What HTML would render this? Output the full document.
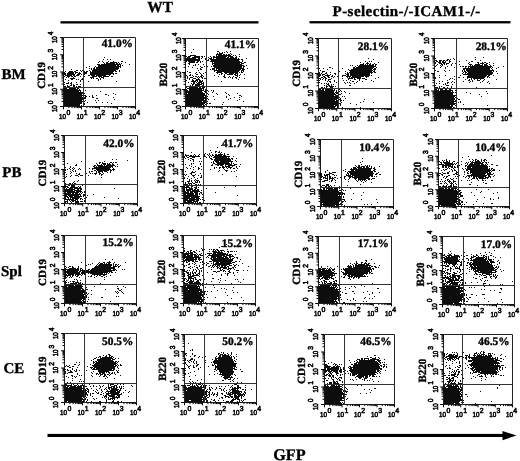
<!DOCTYPE html>
<html><head><meta charset="utf-8"><title>GFP flow cytometry</title>
<style>
html,body{margin:0;padding:0;background:#fff}
svg{display:block}
text{text-rendering:geometricPrecision;font-family:"Liberation Serif",serif;font-weight:bold;fill:#000;stroke:#000;stroke-width:.35}
.n{font-family:"Liberation Sans",sans-serif;font-weight:normal;font-size:7.3px;stroke-width:.55}
.s{font-size:6.2px}
.y{font-size:11px}
.p{font-size:11.4px}
.r{font-size:15px}
.h{font-size:15px}
.d{stroke:#111;stroke-width:1;fill:none}
.a{stroke:#222;stroke-width:1;fill:none}
.g{stroke:#333;stroke-width:1;fill:none}
.t{stroke:#000;stroke-width:1;fill:none}
</style></head><body>
<svg width="520" height="461" viewBox="0 0 520 461">
<defs><filter id="b" x="-2%" y="-2%" width="104%" height="104%"><feGaussianBlur stdDeviation="0.32"/></filter></defs>
<rect width="520" height="461" fill="#fff"/>
<text class="h" x="160.2" y="12.3" text-anchor="middle" style="font-size:15.4px">WT</text>
<text class="h" x="332.6" y="15.9" style="letter-spacing:.43px">P-selectin-/-ICAM1-/-</text>
<rect x="60.5" y="21.2" width="198" height="2.3" fill="#000"/>
<rect x="309.5" y="21.1" width="201" height="2.3" fill="#000"/>
<text class="r" x="1.4" y="79.3">BM</text>
<text class="r" x="2.3" y="176.5">PB</text>
<text class="r" x="1" y="275.6">Spl</text>
<text class="r" x="3.5" y="372.6">CE</text>
<rect x="47.5" y="433.9" width="457" height="3.1" fill="#000"/>
<path d="M502.5 431L516.5 435.5L502.5 440.2Z" fill="#000"/>
<text class="h" x="289.4" y="460" text-anchor="middle" style="font-size:16.2px">GFP</text>
<path class="d" filter="url(#b)" d="M104 57.5h1M103 59.5h1M107 59.5h1M110 59.5h1M99 61.5h1M102 61.5h1M108 61.5h1M113 61.5h1M121 61.5h2M98 62.5h1M103 62.5h1M106 62.5h2M110 62.5h7M118 62.5h1M125 62.5h1M104 63.5h1M106 63.5h9M116 63.5h2M119 63.5h1M121 63.5h1M97 64.5h3M101 64.5h20M129 64.5h1M98 65.5h18M117 65.5h2M120 65.5h1M122 65.5h1M89 66.5h1M95 66.5h1M98 66.5h23M86 67.5h1M94 67.5h1M96 67.5h23M120 67.5h1M89 68.5h1M91 68.5h1M93 68.5h2M96 68.5h23M71 69.5h1M91 69.5h1M93 69.5h25M76 70.5h2M80 70.5h1M82 70.5h1M89 70.5h1M92 70.5h24M119 70.5h1M65 71.5h1M69 71.5h4M74 71.5h2M81 71.5h1M83 71.5h2M86 71.5h2M90 71.5h1M92 71.5h22M115 71.5h2M119 71.5h1M64 72.5h1M68 72.5h6M75 72.5h3M79 72.5h1M83 72.5h4M90 72.5h23M64 73.5h2M67 73.5h7M75 73.5h1M78 73.5h3M84 73.5h3M90 73.5h24M115 73.5h2M64 74.5h2M67 74.5h8M77 74.5h3M81 74.5h1M84 74.5h1M90 74.5h21M113 74.5h1M65 75.5h7M73 75.5h2M76 75.5h3M88 75.5h2M91 75.5h4M96 75.5h10M109 75.5h1M64 76.5h1M67 76.5h3M71 76.5h2M74 76.5h2M80 76.5h1M84 76.5h1M92 76.5h5M98 76.5h4M103 76.5h6M111 76.5h2M66 77.5h1M68 77.5h1M73 77.5h1M90 77.5h4M99 77.5h1M101 77.5h3M70 78.5h5M82 78.5h1M91 78.5h1M93 78.5h1M96 78.5h2M100 78.5h1M103 78.5h1M65 79.5h1M71 79.5h2M76 79.5h1M78 79.5h1M81 79.5h2M98 79.5h1M100 79.5h1M68 80.5h1M80 80.5h1M98 80.5h1M80 81.5h1M88 81.5h1M116 81.5h1M64 82.5h1M68 82.5h1M71 82.5h1M76 82.5h1M66 83.5h3M70 83.5h2M64 84.5h1M71 84.5h1M73 84.5h1M76 84.5h2M80 84.5h1M67 85.5h1M70 85.5h2M73 85.5h2M64 86.5h2M67 86.5h3M73 86.5h2M76 86.5h1M78 86.5h3M64 87.5h1M66 87.5h2M70 87.5h6M77 87.5h3M81 87.5h1M64 88.5h3M69 88.5h7M77 88.5h2M64 89.5h14M79 89.5h1M83 89.5h1M64 90.5h17M83 90.5h1M85 90.5h1M64 91.5h15M80 91.5h1M100 91.5h1M64 92.5h19M64 93.5h19M84 93.5h1M113 93.5h1M64 94.5h18M83 94.5h1M105 94.5h2M115 94.5h1M64 95.5h22M92 95.5h1M96 95.5h1M108 95.5h1M64 96.5h18M85 96.5h2M89 96.5h1M92 96.5h1M64 97.5h22M92 97.5h2M113 97.5h1M64 98.5h22M96 98.5h2M64 99.5h20M114 99.5h1M64 100.5h18M85 100.5h1M95 100.5h1M98 100.5h1M64 101.5h21M64 102.5h18M87 102.5h1M96 102.5h1M102 102.5h1M107 102.5h1M64 103.5h18M84 103.5h1M111 103.5h1M64 104.5h16M83 104.5h2M64 105.5h16M81 105.5h1M64 106.5h19M84 106.5h1"/>
<path class="a" d="M63.5 37.5H135.5V106.5H63.5Z"/>
<path class="g" d="M83.5 37.5V106.5M63.5 87.5H135.5"/>
<path class="t" d="M63.5 106.5v2.8M63.5 106.5h-3.4M68.92 106.5v1.6M63.5 101.31h-2M72.09 106.5v1.6M63.5 98.27h-2M74.34 106.5v1.6M63.5 96.11h-2M76.08 106.5v1.6M63.5 94.44h-2M77.51 106.5v1.6M63.5 93.08h-2M78.71 106.5v1.6M63.5 91.92h-2M79.76 106.5v1.6M63.5 90.92h-2M80.68 106.5v1.6M63.5 90.04h-2M81.5 106.5v2.8M63.5 89.25h-3.4M86.92 106.5v1.6M63.5 84.06h-2M90.09 106.5v1.6M63.5 81.02h-2M92.34 106.5v1.6M63.5 78.86h-2M94.08 106.5v1.6M63.5 77.19h-2M95.51 106.5v1.6M63.5 75.83h-2M96.71 106.5v1.6M63.5 74.67h-2M97.76 106.5v1.6M63.5 73.67h-2M98.68 106.5v1.6M63.5 72.79h-2M99.5 106.5v2.8M63.5 72h-3.4M104.92 106.5v1.6M63.5 66.81h-2M108.09 106.5v1.6M63.5 63.77h-2M110.34 106.5v1.6M63.5 61.61h-2M112.08 106.5v1.6M63.5 59.94h-2M113.51 106.5v1.6M63.5 58.58h-2M114.71 106.5v1.6M63.5 57.42h-2M115.76 106.5v1.6M63.5 56.42h-2M116.68 106.5v1.6M63.5 55.54h-2M117.5 106.5v2.8M63.5 54.75h-3.4M122.92 106.5v1.6M63.5 49.56h-2M126.09 106.5v1.6M63.5 46.52h-2M128.34 106.5v1.6M63.5 44.36h-2M130.08 106.5v1.6M63.5 42.69h-2M131.51 106.5v1.6M63.5 41.33h-2M132.71 106.5v1.6M63.5 40.17h-2M133.76 106.5v1.6M63.5 39.17h-2M134.68 106.5v1.6M63.5 38.29h-2M135.5 106.5v2.8M63.5 37.5h-3.4"/>
<text class="n" transform="translate(59.1 118.6) scale(.86 1)">10</text>
<text class="n" transform="translate(66.4 114.9) scale(.95 1)">0</text>
<text class="n" transform="translate(57.2 112.1) rotate(-90) scale(.85 1)">10</text>
<text class="n" transform="translate(53 104.2) rotate(-90) scale(.93 1)">0</text>
<text class="n" transform="translate(76.56 118.6) scale(.86 1)">10</text>
<text class="n" transform="translate(83.86 114.9) scale(.95 1)">1</text>
<text class="n" transform="translate(57.2 94.85) rotate(-90) scale(.85 1)">10</text>
<text class="n" transform="translate(53 86.95) rotate(-90) scale(.93 1)">1</text>
<text class="n" transform="translate(94.02 118.6) scale(.86 1)">10</text>
<text class="n" transform="translate(101.32 114.9) scale(.95 1)">2</text>
<text class="n" transform="translate(57.2 77.6) rotate(-90) scale(.85 1)">10</text>
<text class="n" transform="translate(53 69.7) rotate(-90) scale(.93 1)">2</text>
<text class="n" transform="translate(111.48 118.6) scale(.86 1)">10</text>
<text class="n" transform="translate(118.78 114.9) scale(.95 1)">3</text>
<text class="n" transform="translate(57.2 60.35) rotate(-90) scale(.85 1)">10</text>
<text class="n" transform="translate(53 52.45) rotate(-90) scale(.93 1)">3</text>
<text class="n" transform="translate(128.94 118.6) scale(.86 1)">10</text>
<text class="n" transform="translate(136.24 114.9) scale(.95 1)">4</text>
<text class="n" transform="translate(57.2 43.1) rotate(-90) scale(.85 1)">10</text>
<text class="n" transform="translate(53 35.2) rotate(-90) scale(.93 1)">4</text>
<text class="y" transform="translate(44.9 75.4) rotate(-90)" text-anchor="middle">CD19</text>
<text class="p" x="133" y="46.7" text-anchor="end">41.0%</text>
<path class="d" filter="url(#b)" d="M193 49.5h1M217 51.5h2M226 51.5h1M230 51.5h1M191 52.5h1M219 52.5h1M222 52.5h1M224 52.5h1M227 52.5h1M217 53.5h1M219 53.5h4M230 53.5h1M216 54.5h6M223 54.5h2M226 54.5h1M228 54.5h2M231 54.5h1M239 54.5h1M190 55.5h6M216 55.5h1M218 55.5h13M233 55.5h1M235 55.5h1M186 56.5h1M188 56.5h3M194 56.5h6M201 56.5h2M204 56.5h1M210 56.5h1M213 56.5h2M216 56.5h11M228 56.5h5M236 56.5h1M239 56.5h1M187 57.5h3M192 57.5h8M202 57.5h1M206 57.5h1M208 57.5h1M211 57.5h1M213 57.5h13M227 57.5h2M230 57.5h4M235 57.5h2M186 58.5h10M198 58.5h2M201 58.5h1M205 58.5h2M209 58.5h3M213 58.5h1M216 58.5h21M238 58.5h1M246 58.5h1M186 59.5h14M205 59.5h1M208 59.5h1M210 59.5h30M241 59.5h2M186 60.5h14M207 60.5h2M211 60.5h28M242 60.5h1M186 61.5h1M188 61.5h7M197 61.5h2M200 61.5h1M202 61.5h1M210 61.5h30M242 61.5h1M189 62.5h6M196 62.5h2M200 62.5h1M212 62.5h1M214 62.5h28M244 62.5h2M188 63.5h2M212 63.5h28M241 63.5h3M189 64.5h1M195 64.5h1M198 64.5h1M203 64.5h1M212 64.5h1M214 64.5h28M193 65.5h1M195 65.5h1M213 65.5h31M246 65.5h1M188 66.5h1M200 66.5h1M204 66.5h1M207 66.5h1M211 66.5h1M213 66.5h29M243 66.5h2M192 67.5h1M201 67.5h2M214 67.5h28M243 67.5h1M197 68.5h1M200 68.5h1M212 68.5h3M216 68.5h28M247 68.5h1M200 69.5h2M210 69.5h1M212 69.5h3M216 69.5h1M218 69.5h23M242 69.5h3M198 70.5h1M214 70.5h26M241 70.5h3M187 71.5h1M214 71.5h1M217 71.5h22M241 71.5h1M243 71.5h1M189 72.5h2M196 72.5h1M199 72.5h1M205 72.5h1M216 72.5h6M224 72.5h14M239 72.5h1M241 72.5h2M195 73.5h1M200 73.5h1M203 73.5h1M217 73.5h1M221 73.5h2M225 73.5h2M229 73.5h5M235 73.5h3M190 74.5h1M196 74.5h2M201 74.5h1M219 74.5h1M221 74.5h1M224 74.5h1M227 74.5h6M234 74.5h2M237 74.5h1M240 74.5h1M244 74.5h1M186 75.5h1M189 75.5h2M192 75.5h1M201 75.5h2M214 75.5h1M224 75.5h1M235 75.5h3M239 75.5h1M187 76.5h1M193 76.5h1M195 76.5h2M198 76.5h1M200 76.5h2M203 76.5h1M218 76.5h1M223 76.5h2M229 76.5h1M233 76.5h1M237 76.5h1M187 77.5h1M190 77.5h3M197 77.5h1M199 77.5h1M201 77.5h2M224 77.5h2M228 77.5h1M230 77.5h1M232 77.5h1M235 77.5h2M239 77.5h1M187 78.5h1M189 78.5h1M193 78.5h3M198 78.5h1M202 78.5h1M204 78.5h2M232 78.5h1M236 78.5h1M244 78.5h1M189 79.5h1M192 79.5h1M196 79.5h4M238 79.5h1M186 80.5h1M192 80.5h2M195 80.5h3M199 80.5h2M202 80.5h1M206 80.5h1M191 81.5h5M197 81.5h1M199 81.5h4M221 81.5h1M188 82.5h1M193 82.5h2M196 82.5h1M198 82.5h4M203 82.5h1M206 82.5h1M191 83.5h1M193 83.5h2M197 83.5h3M201 83.5h3M192 84.5h2M195 84.5h7M203 84.5h1M190 85.5h1M192 85.5h1M195 85.5h5M202 85.5h2M186 86.5h1M188 86.5h2M191 86.5h11M203 86.5h2M186 87.5h1M189 87.5h9M199 87.5h2M202 87.5h3M187 88.5h17M206 88.5h1M186 89.5h1M189 89.5h13M203 89.5h1M205 89.5h1M186 90.5h2M189 90.5h15M205 90.5h1M207 90.5h1M211 90.5h1M213 90.5h1M186 91.5h16M204 91.5h2M208 91.5h1M213 91.5h1M186 92.5h17M205 92.5h2M212 92.5h1M225 92.5h1M186 93.5h1M188 93.5h17M206 93.5h2M216 93.5h1M226 93.5h1M237 93.5h1M186 94.5h19M206 94.5h1M208 94.5h1M217 94.5h1M228 94.5h1M186 95.5h21M229 95.5h1M239 95.5h2M186 96.5h18M205 96.5h3M213 96.5h1M226 96.5h1M241 96.5h1M186 97.5h21M226 97.5h1M234 97.5h1M239 97.5h1M186 98.5h22M230 98.5h1M186 99.5h18M205 99.5h2M208 99.5h1M214 99.5h1M228 99.5h1M239 99.5h1M186 100.5h20M237 100.5h1M186 101.5h16M203 101.5h5M243 101.5h1M186 102.5h20M223 102.5h1M186 103.5h19M207 103.5h1M209 103.5h2M186 104.5h18M205 104.5h1M222 104.5h1M186 105.5h16M203 105.5h2M206 105.5h1M186 106.5h16M203 106.5h2"/>
<path class="a" d="M185.5 38.5H258.5V106.5H185.5Z"/>
<path class="g" d="M206.5 38.5V106.5M185.5 86.5H258.5"/>
<path class="t" d="M185.5 106.5v2.8M185.5 106.5h-3.4M190.99 106.5v1.6M185.5 101.38h-2M194.21 106.5v1.6M185.5 98.39h-2M196.49 106.5v1.6M185.5 96.26h-2M198.26 106.5v1.6M185.5 94.62h-2M199.7 106.5v1.6M185.5 93.27h-2M200.92 106.5v1.6M185.5 92.13h-2M201.98 106.5v1.6M185.5 91.15h-2M202.91 106.5v1.6M185.5 90.28h-2M203.75 106.5v2.8M185.5 89.5h-3.4M209.24 106.5v1.6M185.5 84.38h-2M212.46 106.5v1.6M185.5 81.39h-2M214.74 106.5v1.6M185.5 79.26h-2M216.51 106.5v1.6M185.5 77.62h-2M217.95 106.5v1.6M185.5 76.27h-2M219.17 106.5v1.6M185.5 75.13h-2M220.23 106.5v1.6M185.5 74.15h-2M221.16 106.5v1.6M185.5 73.28h-2M222 106.5v2.8M185.5 72.5h-3.4M227.49 106.5v1.6M185.5 67.38h-2M230.71 106.5v1.6M185.5 64.39h-2M232.99 106.5v1.6M185.5 62.26h-2M234.76 106.5v1.6M185.5 60.62h-2M236.2 106.5v1.6M185.5 59.27h-2M237.42 106.5v1.6M185.5 58.13h-2M238.48 106.5v1.6M185.5 57.15h-2M239.41 106.5v1.6M185.5 56.28h-2M240.25 106.5v2.8M185.5 55.5h-3.4M245.74 106.5v1.6M185.5 50.38h-2M248.96 106.5v1.6M185.5 47.39h-2M251.24 106.5v1.6M185.5 45.26h-2M253.01 106.5v1.6M185.5 43.62h-2M254.45 106.5v1.6M185.5 42.27h-2M255.67 106.5v1.6M185.5 41.13h-2M256.73 106.5v1.6M185.5 40.15h-2M257.66 106.5v1.6M185.5 39.28h-2M258.5 106.5v2.8M185.5 38.5h-3.4"/>
<text class="n" transform="translate(181.1 118.6) scale(.86 1)">10</text>
<text class="n" transform="translate(188.4 114.9) scale(.95 1)">0</text>
<text class="n" transform="translate(180.7 112.1) rotate(-90) scale(.85 1)">10</text>
<text class="n" transform="translate(176.5 104.2) rotate(-90) scale(.93 1)">0</text>
<text class="n" transform="translate(198.8 118.6) scale(.86 1)">10</text>
<text class="n" transform="translate(206.1 114.9) scale(.95 1)">1</text>
<text class="n" transform="translate(180.7 95.1) rotate(-90) scale(.85 1)">10</text>
<text class="n" transform="translate(176.5 87.2) rotate(-90) scale(.93 1)">1</text>
<text class="n" transform="translate(216.5 118.6) scale(.86 1)">10</text>
<text class="n" transform="translate(223.81 114.9) scale(.95 1)">2</text>
<text class="n" transform="translate(180.7 78.1) rotate(-90) scale(.85 1)">10</text>
<text class="n" transform="translate(176.5 70.2) rotate(-90) scale(.93 1)">2</text>
<text class="n" transform="translate(234.21 118.6) scale(.86 1)">10</text>
<text class="n" transform="translate(241.51 114.9) scale(.95 1)">3</text>
<text class="n" transform="translate(180.7 61.1) rotate(-90) scale(.85 1)">10</text>
<text class="n" transform="translate(176.5 53.2) rotate(-90) scale(.93 1)">3</text>
<text class="n" transform="translate(251.91 118.6) scale(.86 1)">10</text>
<text class="n" transform="translate(259.21 114.9) scale(.95 1)">4</text>
<text class="n" transform="translate(180.7 44.1) rotate(-90) scale(.85 1)">10</text>
<text class="n" transform="translate(176.5 36.2) rotate(-90) scale(.93 1)">4</text>
<text class="y" transform="translate(167 74.7) rotate(-90)" text-anchor="middle">B220</text>
<text class="p" x="256.2" y="47.9" text-anchor="end">41.1%</text>
<path class="d" filter="url(#b)" d="M368 58.5h1M373 59.5h1M365 61.5h1M369 61.5h1M371 61.5h1M360 62.5h1M367 62.5h1M378 62.5h1M363 63.5h1M366 63.5h3M370 63.5h1M374 63.5h1M360 64.5h4M365 64.5h1M367 64.5h1M369 64.5h2M372 64.5h2M375 64.5h2M350 65.5h1M352 65.5h1M357 65.5h1M359 65.5h15M375 65.5h1M355 66.5h1M358 66.5h18M329 67.5h2M353 67.5h2M356 67.5h18M376 67.5h1M319 68.5h1M323 68.5h1M332 68.5h1M342 68.5h1M353 68.5h20M374 68.5h2M327 69.5h1M348 69.5h1M351 69.5h21M373 69.5h3M320 70.5h1M349 70.5h24M374 70.5h1M322 71.5h3M339 71.5h1M345 71.5h1M350 71.5h22M373 71.5h2M319 72.5h1M322 72.5h1M326 72.5h1M330 72.5h1M347 72.5h1M349 72.5h24M374 72.5h2M319 73.5h1M321 73.5h1M325 73.5h2M334 73.5h2M345 73.5h1M347 73.5h2M350 73.5h20M371 73.5h1M319 74.5h2M322 74.5h3M327 74.5h1M330 74.5h1M335 74.5h1M346 74.5h3M350 74.5h20M319 75.5h2M322 75.5h1M325 75.5h5M332 75.5h1M342 75.5h4M347 75.5h2M350 75.5h20M371 75.5h1M319 76.5h1M323 76.5h2M327 76.5h2M331 76.5h2M334 76.5h1M337 76.5h1M342 76.5h1M346 76.5h5M352 76.5h12M365 76.5h4M321 77.5h2M324 77.5h2M328 77.5h2M333 77.5h1M347 77.5h1M349 77.5h1M351 77.5h10M366 77.5h1M378 77.5h1M319 78.5h2M323 78.5h1M325 78.5h2M331 78.5h1M342 78.5h1M348 78.5h5M354 78.5h1M357 78.5h4M362 78.5h3M375 78.5h1M320 79.5h1M322 79.5h1M325 79.5h1M328 79.5h3M348 79.5h1M354 79.5h2M359 79.5h1M365 79.5h2M319 80.5h1M325 80.5h1M328 80.5h1M334 80.5h1M343 80.5h1M346 80.5h1M350 80.5h1M359 80.5h1M371 80.5h1M327 81.5h1M329 81.5h2M334 81.5h1M352 81.5h2M357 81.5h1M362 81.5h1M373 81.5h1M319 82.5h1M330 82.5h1M336 82.5h1M338 82.5h1M344 82.5h1M347 82.5h1M349 82.5h1M356 82.5h1M321 83.5h1M324 83.5h1M326 83.5h1M328 83.5h1M345 83.5h1M350 83.5h1M354 83.5h1M327 84.5h2M331 84.5h1M333 84.5h1M324 85.5h1M326 85.5h1M328 85.5h2M331 85.5h1M349 85.5h2M326 86.5h2M329 86.5h5M335 86.5h1M321 87.5h2M324 87.5h1M326 87.5h1M330 87.5h3M319 88.5h1M321 88.5h3M325 88.5h6M333 88.5h1M319 89.5h2M322 89.5h2M325 89.5h8M334 89.5h1M339 89.5h1M319 90.5h5M325 90.5h10M336 90.5h1M340 90.5h1M319 91.5h15M336 91.5h1M339 91.5h1M341 91.5h1M344 91.5h1M319 92.5h15M335 92.5h3M345 92.5h1M319 93.5h16M336 93.5h2M341 93.5h1M349 93.5h1M319 94.5h17M339 94.5h2M319 95.5h15M335 95.5h4M319 96.5h20M342 96.5h1M344 96.5h1M319 97.5h21M319 98.5h20M340 98.5h1M345 98.5h1M319 99.5h18M338 99.5h3M364 99.5h1M319 100.5h16M336 100.5h2M340 100.5h2M343 100.5h1M319 101.5h20M340 101.5h1M363 101.5h1M319 102.5h20M341 102.5h1M360 102.5h1M373 102.5h1M319 103.5h22M350 103.5h1M319 104.5h20M340 104.5h1M356 104.5h1M319 105.5h15M335 105.5h4M340 105.5h1M319 106.5h17M337 106.5h2M319 107.5h16M337 107.5h1M342 107.5h1M360 107.5h1M319 108.5h15M335 108.5h5"/>
<path class="a" d="M318.5 38.5H391.5V108.5H318.5Z"/>
<path class="g" d="M338.5 38.5V108.5M318.5 88.5H391.5"/>
<path class="t" d="M318.5 108.5v2.8M318.5 108.5h-3.4M323.99 108.5v1.6M318.5 103.23h-2M327.21 108.5v1.6M318.5 100.15h-2M329.49 108.5v1.6M318.5 97.96h-2M331.26 108.5v1.6M318.5 96.27h-2M332.7 108.5v1.6M318.5 94.88h-2M333.92 108.5v1.6M318.5 93.71h-2M334.98 108.5v1.6M318.5 92.7h-2M335.91 108.5v1.6M318.5 91.8h-2M336.75 108.5v2.8M318.5 91h-3.4M342.24 108.5v1.6M318.5 85.73h-2M345.46 108.5v1.6M318.5 82.65h-2M347.74 108.5v1.6M318.5 80.46h-2M349.51 108.5v1.6M318.5 78.77h-2M350.95 108.5v1.6M318.5 77.38h-2M352.17 108.5v1.6M318.5 76.21h-2M353.23 108.5v1.6M318.5 75.2h-2M354.16 108.5v1.6M318.5 74.3h-2M355 108.5v2.8M318.5 73.5h-3.4M360.49 108.5v1.6M318.5 68.23h-2M363.71 108.5v1.6M318.5 65.15h-2M365.99 108.5v1.6M318.5 62.96h-2M367.76 108.5v1.6M318.5 61.27h-2M369.2 108.5v1.6M318.5 59.88h-2M370.42 108.5v1.6M318.5 58.71h-2M371.48 108.5v1.6M318.5 57.7h-2M372.41 108.5v1.6M318.5 56.8h-2M373.25 108.5v2.8M318.5 56h-3.4M378.74 108.5v1.6M318.5 50.73h-2M381.96 108.5v1.6M318.5 47.65h-2M384.24 108.5v1.6M318.5 45.46h-2M386.01 108.5v1.6M318.5 43.77h-2M387.45 108.5v1.6M318.5 42.38h-2M388.67 108.5v1.6M318.5 41.21h-2M389.73 108.5v1.6M318.5 40.2h-2M390.66 108.5v1.6M318.5 39.3h-2M391.5 108.5v2.8M318.5 38.5h-3.4"/>
<text class="n" transform="translate(314.1 120.6) scale(.86 1)">10</text>
<text class="n" transform="translate(321.4 116.9) scale(.95 1)">0</text>
<text class="n" transform="translate(312.65 114.1) rotate(-90) scale(.85 1)">10</text>
<text class="n" transform="translate(308.45 106.2) rotate(-90) scale(.93 1)">0</text>
<text class="n" transform="translate(331.8 120.6) scale(.86 1)">10</text>
<text class="n" transform="translate(339.1 116.9) scale(.95 1)">1</text>
<text class="n" transform="translate(312.65 96.6) rotate(-90) scale(.85 1)">10</text>
<text class="n" transform="translate(308.45 88.7) rotate(-90) scale(.93 1)">1</text>
<text class="n" transform="translate(349.5 120.6) scale(.86 1)">10</text>
<text class="n" transform="translate(356.81 116.9) scale(.95 1)">2</text>
<text class="n" transform="translate(312.65 79.1) rotate(-90) scale(.85 1)">10</text>
<text class="n" transform="translate(308.45 71.2) rotate(-90) scale(.93 1)">2</text>
<text class="n" transform="translate(367.21 120.6) scale(.86 1)">10</text>
<text class="n" transform="translate(374.51 116.9) scale(.95 1)">3</text>
<text class="n" transform="translate(312.65 61.6) rotate(-90) scale(.85 1)">10</text>
<text class="n" transform="translate(308.45 53.7) rotate(-90) scale(.93 1)">3</text>
<text class="n" transform="translate(384.91 120.6) scale(.86 1)">10</text>
<text class="n" transform="translate(392.21 116.9) scale(.95 1)">4</text>
<text class="n" transform="translate(312.65 44.1) rotate(-90) scale(.85 1)">10</text>
<text class="n" transform="translate(308.45 36.2) rotate(-90) scale(.93 1)">4</text>
<text class="y" transform="translate(299.7 73.35) rotate(-90)" text-anchor="middle">CD19</text>
<text class="p" x="389.1" y="50.2" text-anchor="end">28.1%</text>
<path class="d" filter="url(#b)" d="M475 57.5h1M483 57.5h1M435 58.5h1M453 58.5h1M447 59.5h2M450 59.5h1M454 59.5h1M475 59.5h1M435 60.5h2M439 60.5h3M443 60.5h2M446 60.5h2M449 60.5h1M466 60.5h1M480 60.5h1M436 61.5h2M439 61.5h2M442 61.5h2M445 61.5h1M449 61.5h2M459 61.5h1M471 61.5h2M435 62.5h1M438 62.5h3M442 62.5h4M449 62.5h1M469 62.5h1M477 62.5h2M482 62.5h1M484 62.5h2M489 62.5h1M435 63.5h1M439 63.5h3M443 63.5h2M446 63.5h3M452 63.5h1M455 63.5h1M468 63.5h1M478 63.5h1M480 63.5h4M486 63.5h2M493 63.5h1M437 64.5h1M441 64.5h2M444 64.5h1M446 64.5h1M451 64.5h1M459 64.5h1M469 64.5h3M475 64.5h5M482 64.5h1M484 64.5h3M489 64.5h1M436 65.5h1M440 65.5h1M442 65.5h1M451 65.5h1M470 65.5h1M472 65.5h1M474 65.5h9M484 65.5h4M490 65.5h1M493 65.5h1M435 66.5h1M441 66.5h1M447 66.5h1M460 66.5h1M462 66.5h2M465 66.5h2M468 66.5h24M503 66.5h1M440 67.5h1M445 67.5h1M454 67.5h1M465 67.5h1M468 67.5h1M470 67.5h21M492 67.5h1M498 67.5h1M445 68.5h1M463 68.5h27M491 68.5h1M496 68.5h1M463 69.5h2M466 69.5h24M492 69.5h1M435 70.5h1M444 70.5h1M449 70.5h1M462 70.5h1M464 70.5h1M466 70.5h28M437 71.5h2M445 71.5h1M462 71.5h1M464 71.5h2M467 71.5h25M493 71.5h1M496 71.5h1M463 72.5h1M465 72.5h2M468 72.5h25M462 73.5h1M465 73.5h1M467 73.5h26M497 73.5h1M463 74.5h29M439 75.5h1M445 75.5h1M460 75.5h1M468 75.5h19M488 75.5h2M493 75.5h1M454 76.5h1M467 76.5h19M487 76.5h2M435 77.5h1M439 77.5h1M458 77.5h2M463 77.5h1M467 77.5h18M487 77.5h1M489 77.5h1M435 78.5h1M450 78.5h1M452 78.5h1M467 78.5h1M471 78.5h1M473 78.5h11M449 79.5h1M454 79.5h1M465 79.5h1M469 79.5h1M471 79.5h1M474 79.5h1M477 79.5h1M480 79.5h1M484 79.5h1M496 79.5h1M447 80.5h1M468 80.5h2M472 80.5h1M477 80.5h3M483 80.5h1M439 81.5h1M442 81.5h1M452 81.5h1M463 81.5h1M470 81.5h1M472 81.5h1M482 81.5h1M488 81.5h1M447 82.5h2M451 82.5h1M454 82.5h1M469 82.5h1M480 82.5h1M487 82.5h1M436 83.5h1M439 83.5h1M445 83.5h1M447 83.5h1M489 83.5h1M443 84.5h1M445 84.5h1M452 84.5h1M435 85.5h1M446 85.5h3M439 86.5h1M441 86.5h1M451 86.5h1M435 87.5h3M439 87.5h1M443 87.5h2M447 87.5h1M451 87.5h1M476 87.5h1M435 88.5h1M439 88.5h2M444 88.5h1M447 88.5h1M435 89.5h2M438 89.5h1M440 89.5h3M445 89.5h2M449 89.5h2M435 90.5h4M440 90.5h13M455 90.5h1M435 91.5h16M452 91.5h1M486 91.5h1M435 92.5h19M455 92.5h1M466 92.5h1M435 93.5h18M456 93.5h1M470 93.5h1M487 93.5h1M435 94.5h18M479 94.5h1M435 95.5h21M435 96.5h20M456 96.5h1M481 96.5h1M435 97.5h19M455 97.5h1M435 98.5h20M457 98.5h1M435 99.5h20M458 99.5h2M435 100.5h19M455 100.5h2M435 101.5h21M460 101.5h1M435 102.5h19M458 102.5h1M460 102.5h1M435 103.5h21M435 104.5h20M463 104.5h1M435 105.5h15M451 105.5h2M455 105.5h1M487 105.5h1M435 106.5h18M435 107.5h17M453 107.5h2M435 108.5h11M447 108.5h4M455 108.5h1"/>
<path class="a" d="M434.5 38.5H507.5V108.5H434.5Z"/>
<path class="g" d="M456.5 38.5V108.5M434.5 88.5H507.5"/>
<path class="t" d="M434.5 108.5v2.8M434.5 108.5h-3.4M439.99 108.5v1.6M434.5 103.23h-2M443.21 108.5v1.6M434.5 100.15h-2M445.49 108.5v1.6M434.5 97.96h-2M447.26 108.5v1.6M434.5 96.27h-2M448.7 108.5v1.6M434.5 94.88h-2M449.92 108.5v1.6M434.5 93.71h-2M450.98 108.5v1.6M434.5 92.7h-2M451.91 108.5v1.6M434.5 91.8h-2M452.75 108.5v2.8M434.5 91h-3.4M458.24 108.5v1.6M434.5 85.73h-2M461.46 108.5v1.6M434.5 82.65h-2M463.74 108.5v1.6M434.5 80.46h-2M465.51 108.5v1.6M434.5 78.77h-2M466.95 108.5v1.6M434.5 77.38h-2M468.17 108.5v1.6M434.5 76.21h-2M469.23 108.5v1.6M434.5 75.2h-2M470.16 108.5v1.6M434.5 74.3h-2M471 108.5v2.8M434.5 73.5h-3.4M476.49 108.5v1.6M434.5 68.23h-2M479.71 108.5v1.6M434.5 65.15h-2M481.99 108.5v1.6M434.5 62.96h-2M483.76 108.5v1.6M434.5 61.27h-2M485.2 108.5v1.6M434.5 59.88h-2M486.42 108.5v1.6M434.5 58.71h-2M487.48 108.5v1.6M434.5 57.7h-2M488.41 108.5v1.6M434.5 56.8h-2M489.25 108.5v2.8M434.5 56h-3.4M494.74 108.5v1.6M434.5 50.73h-2M497.96 108.5v1.6M434.5 47.65h-2M500.24 108.5v1.6M434.5 45.46h-2M502.01 108.5v1.6M434.5 43.77h-2M503.45 108.5v1.6M434.5 42.38h-2M504.67 108.5v1.6M434.5 41.21h-2M505.73 108.5v1.6M434.5 40.2h-2M506.66 108.5v1.6M434.5 39.3h-2M507.5 108.5v2.8M434.5 38.5h-3.4"/>
<text class="n" transform="translate(430.1 120.6) scale(.86 1)">10</text>
<text class="n" transform="translate(437.4 116.9) scale(.95 1)">0</text>
<text class="n" transform="translate(428.6 114.1) rotate(-90) scale(.85 1)">10</text>
<text class="n" transform="translate(424.4 106.2) rotate(-90) scale(.93 1)">0</text>
<text class="n" transform="translate(447.8 120.6) scale(.86 1)">10</text>
<text class="n" transform="translate(455.1 116.9) scale(.95 1)">1</text>
<text class="n" transform="translate(428.6 96.6) rotate(-90) scale(.85 1)">10</text>
<text class="n" transform="translate(424.4 88.7) rotate(-90) scale(.93 1)">1</text>
<text class="n" transform="translate(465.5 120.6) scale(.86 1)">10</text>
<text class="n" transform="translate(472.81 116.9) scale(.95 1)">2</text>
<text class="n" transform="translate(428.6 79.1) rotate(-90) scale(.85 1)">10</text>
<text class="n" transform="translate(424.4 71.2) rotate(-90) scale(.93 1)">2</text>
<text class="n" transform="translate(483.21 120.6) scale(.86 1)">10</text>
<text class="n" transform="translate(490.51 116.9) scale(.95 1)">3</text>
<text class="n" transform="translate(428.6 61.6) rotate(-90) scale(.85 1)">10</text>
<text class="n" transform="translate(424.4 53.7) rotate(-90) scale(.93 1)">3</text>
<text class="n" transform="translate(500.91 120.6) scale(.86 1)">10</text>
<text class="n" transform="translate(508.21 116.9) scale(.95 1)">4</text>
<text class="n" transform="translate(428.6 44.1) rotate(-90) scale(.85 1)">10</text>
<text class="n" transform="translate(424.4 36.2) rotate(-90) scale(.93 1)">4</text>
<text class="y" transform="translate(417 74.6) rotate(-90)" text-anchor="middle">B220</text>
<text class="p" x="507" y="49.9" text-anchor="end">28.1%</text>
<path class="d" filter="url(#b)" d="M112 159.5h1M116 159.5h1M127 160.5h1M81 161.5h1M104 161.5h1M99 162.5h2M102 162.5h1M110 162.5h2M113 162.5h1M115 162.5h2M67 163.5h1M96 163.5h1M99 163.5h1M102 163.5h4M107 163.5h1M109 163.5h1M112 163.5h1M76 164.5h1M97 164.5h1M101 164.5h1M103 164.5h3M107 164.5h4M112 164.5h2M117 164.5h1M75 165.5h2M94 165.5h2M97 165.5h6M104 165.5h1M106 165.5h9M70 166.5h1M93 166.5h2M96 166.5h1M98 166.5h15M115 166.5h1M117 166.5h1M65 167.5h1M70 167.5h1M73 167.5h1M94 167.5h17M112 167.5h1M69 168.5h1M72 168.5h1M74 168.5h1M79 168.5h1M89 168.5h1M92 168.5h18M113 168.5h1M65 169.5h1M67 169.5h1M70 169.5h1M73 169.5h1M78 169.5h1M80 169.5h1M92 169.5h1M96 169.5h15M112 169.5h3M65 170.5h1M72 170.5h1M75 170.5h1M94 170.5h2M97 170.5h12M110 170.5h2M113 170.5h1M70 171.5h1M73 171.5h1M75 171.5h1M89 171.5h1M91 171.5h2M96 171.5h1M98 171.5h5M104 171.5h3M110 171.5h1M65 172.5h1M71 172.5h1M89 172.5h1M96 172.5h1M98 172.5h2M102 172.5h1M107 172.5h1M110 172.5h1M70 173.5h1M76 173.5h1M79 173.5h1M86 173.5h1M90 173.5h1M92 173.5h1M94 173.5h3M99 173.5h2M103 173.5h1M66 174.5h1M78 174.5h2M95 174.5h1M99 174.5h1M101 174.5h2M71 175.5h1M75 175.5h3M80 175.5h3M88 175.5h1M101 175.5h1M66 176.5h1M70 176.5h1M78 176.5h1M65 177.5h1M101 177.5h1M78 180.5h1M74 181.5h1M77 181.5h1M73 182.5h1M65 183.5h1M69 183.5h2M72 183.5h1M74 183.5h2M65 184.5h1M67 184.5h2M72 184.5h1M74 184.5h1M76 184.5h1M82 184.5h1M65 185.5h1M68 185.5h2M71 185.5h4M82 185.5h1M65 186.5h3M71 186.5h4M78 186.5h1M80 186.5h1M65 187.5h1M67 187.5h2M70 187.5h8M79 187.5h2M66 188.5h1M69 188.5h4M74 188.5h8M114 188.5h1M65 189.5h10M77 189.5h2M80 189.5h2M85 189.5h1M65 190.5h8M74 190.5h7M65 191.5h10M76 191.5h6M84 191.5h1M65 192.5h1M67 192.5h12M80 192.5h1M82 192.5h1M84 192.5h2M65 193.5h6M72 193.5h2M75 193.5h3M79 193.5h1M81 193.5h1M65 194.5h16M83 194.5h2M93 194.5h1M65 195.5h2M68 195.5h11M80 195.5h1M83 195.5h2M87 195.5h1M65 196.5h3M69 196.5h4M74 196.5h8M83 196.5h1M65 197.5h1M67 197.5h2M70 197.5h10M86 197.5h1M104 197.5h1M65 198.5h1M68 198.5h1M70 198.5h1M72 198.5h7M80 198.5h2M84 198.5h2M118 198.5h1M65 199.5h9M75 199.5h3M80 199.5h1M82 199.5h1M67 200.5h1M69 200.5h1M71 200.5h5M77 200.5h1M84 200.5h1M65 201.5h3M70 201.5h1M72 201.5h2M75 201.5h4M80 201.5h3M84 201.5h1M65 202.5h1M67 202.5h1M71 202.5h1M75 202.5h4M65 203.5h4M70 203.5h8M79 203.5h3M86 203.5h1"/>
<path class="a" d="M64.5 135.5H137.5V203.5H64.5Z"/>
<path class="g" d="M85.5 135.5V203.5M64.5 184.5H137.5"/>
<path class="t" d="M64.5 203.5v2.8M64.5 203.5h-3.4M69.99 203.5v1.6M64.5 198.38h-2M73.21 203.5v1.6M64.5 195.39h-2M75.49 203.5v1.6M64.5 193.26h-2M77.26 203.5v1.6M64.5 191.62h-2M78.7 203.5v1.6M64.5 190.27h-2M79.92 203.5v1.6M64.5 189.13h-2M80.98 203.5v1.6M64.5 188.15h-2M81.91 203.5v1.6M64.5 187.28h-2M82.75 203.5v2.8M64.5 186.5h-3.4M88.24 203.5v1.6M64.5 181.38h-2M91.46 203.5v1.6M64.5 178.39h-2M93.74 203.5v1.6M64.5 176.26h-2M95.51 203.5v1.6M64.5 174.62h-2M96.95 203.5v1.6M64.5 173.27h-2M98.17 203.5v1.6M64.5 172.13h-2M99.23 203.5v1.6M64.5 171.15h-2M100.16 203.5v1.6M64.5 170.28h-2M101 203.5v2.8M64.5 169.5h-3.4M106.49 203.5v1.6M64.5 164.38h-2M109.71 203.5v1.6M64.5 161.39h-2M111.99 203.5v1.6M64.5 159.26h-2M113.76 203.5v1.6M64.5 157.62h-2M115.2 203.5v1.6M64.5 156.27h-2M116.42 203.5v1.6M64.5 155.13h-2M117.48 203.5v1.6M64.5 154.15h-2M118.41 203.5v1.6M64.5 153.28h-2M119.25 203.5v2.8M64.5 152.5h-3.4M124.74 203.5v1.6M64.5 147.38h-2M127.96 203.5v1.6M64.5 144.39h-2M130.24 203.5v1.6M64.5 142.26h-2M132.01 203.5v1.6M64.5 140.62h-2M133.45 203.5v1.6M64.5 139.27h-2M134.67 203.5v1.6M64.5 138.13h-2M135.73 203.5v1.6M64.5 137.15h-2M136.66 203.5v1.6M64.5 136.28h-2M137.5 203.5v2.8M64.5 135.5h-3.4"/>
<text class="n" transform="translate(60.1 215.6) scale(.86 1)">10</text>
<text class="n" transform="translate(67.4 211.9) scale(.95 1)">0</text>
<text class="n" transform="translate(58.85 209.1) rotate(-90) scale(.85 1)">10</text>
<text class="n" transform="translate(54.65 201.2) rotate(-90) scale(.93 1)">0</text>
<text class="n" transform="translate(77.8 215.6) scale(.86 1)">10</text>
<text class="n" transform="translate(85.1 211.9) scale(.95 1)">1</text>
<text class="n" transform="translate(58.85 192.1) rotate(-90) scale(.85 1)">10</text>
<text class="n" transform="translate(54.65 184.2) rotate(-90) scale(.93 1)">1</text>
<text class="n" transform="translate(95.5 215.6) scale(.86 1)">10</text>
<text class="n" transform="translate(102.8 211.9) scale(.95 1)">2</text>
<text class="n" transform="translate(58.85 175.1) rotate(-90) scale(.85 1)">10</text>
<text class="n" transform="translate(54.65 167.2) rotate(-90) scale(.93 1)">2</text>
<text class="n" transform="translate(113.21 215.6) scale(.86 1)">10</text>
<text class="n" transform="translate(120.51 211.9) scale(.95 1)">3</text>
<text class="n" transform="translate(58.85 158.1) rotate(-90) scale(.85 1)">10</text>
<text class="n" transform="translate(54.65 150.2) rotate(-90) scale(.93 1)">3</text>
<text class="n" transform="translate(130.91 215.6) scale(.86 1)">10</text>
<text class="n" transform="translate(138.21 211.9) scale(.95 1)">4</text>
<text class="n" transform="translate(58.85 141.1) rotate(-90) scale(.85 1)">10</text>
<text class="n" transform="translate(54.65 133.2) rotate(-90) scale(.93 1)">4</text>
<text class="y" transform="translate(45.6 173.1) rotate(-90)" text-anchor="middle">CD19</text>
<text class="p" x="134.6" y="146.5" text-anchor="end">42.0%</text>
<path class="d" filter="url(#b)" d="M221 145.5h1M217 147.5h1M210 150.5h1M215 151.5h2M219 151.5h1M191 152.5h1M211 152.5h1M215 152.5h1M218 152.5h2M221 152.5h1M205 153.5h1M209 153.5h1M220 153.5h1M224 153.5h1M185 154.5h1M194 154.5h1M199 154.5h1M204 154.5h1M207 154.5h1M209 154.5h1M212 154.5h1M215 154.5h2M218 154.5h5M224 154.5h1M227 154.5h2M185 155.5h4M190 155.5h2M193 155.5h1M195 155.5h1M198 155.5h1M204 155.5h1M208 155.5h1M210 155.5h1M212 155.5h2M215 155.5h7M223 155.5h3M184 156.5h1M186 156.5h1M189 156.5h11M204 156.5h2M209 156.5h1M211 156.5h1M214 156.5h16M233 156.5h1M184 157.5h1M187 157.5h2M192 157.5h3M206 157.5h1M209 157.5h1M213 157.5h14M228 157.5h1M185 158.5h1M190 158.5h2M200 158.5h1M210 158.5h2M215 158.5h15M231 158.5h2M236 158.5h1M188 159.5h1M192 159.5h2M211 159.5h2M214 159.5h17M232 159.5h1M190 160.5h1M193 160.5h1M214 160.5h17M235 160.5h1M193 161.5h1M199 161.5h1M201 161.5h1M213 161.5h1M215 161.5h4M220 161.5h13M236 161.5h1M211 162.5h1M213 162.5h1M216 162.5h13M231 162.5h1M191 163.5h1M193 163.5h1M200 163.5h1M213 163.5h2M217 163.5h13M231 163.5h1M233 163.5h1M185 164.5h1M191 164.5h1M200 164.5h1M212 164.5h1M215 164.5h9M225 164.5h7M234 164.5h3M240 164.5h1M189 165.5h1M211 165.5h2M217 165.5h2M220 165.5h3M225 165.5h1M228 165.5h7M191 166.5h1M195 166.5h1M201 166.5h1M222 166.5h2M225 166.5h5M232 166.5h1M236 166.5h1M239 166.5h1M186 167.5h1M193 167.5h1M198 167.5h1M214 167.5h1M216 167.5h1M219 167.5h2M222 167.5h3M226 167.5h1M228 167.5h4M236 167.5h1M187 168.5h1M190 168.5h1M198 168.5h2M214 168.5h1M219 168.5h1M223 168.5h1M227 168.5h1M230 168.5h1M233 168.5h2M237 168.5h1M193 169.5h1M198 169.5h1M201 169.5h1M210 169.5h1M224 169.5h1M219 170.5h1M225 170.5h3M236 170.5h1M185 171.5h1M192 171.5h1M195 171.5h1M218 171.5h1M226 171.5h1M231 171.5h1M234 171.5h1M191 172.5h4M190 173.5h2M200 173.5h1M184 174.5h1M186 174.5h1M191 174.5h1M195 174.5h1M222 174.5h1M185 175.5h1M192 175.5h3M198 175.5h1M201 175.5h1M188 176.5h1M193 176.5h1M201 176.5h1M236 176.5h1M184 177.5h1M194 177.5h1M200 177.5h2M184 178.5h1M187 178.5h1M191 178.5h1M197 178.5h1M189 179.5h1M195 179.5h1M189 180.5h1M191 180.5h1M194 180.5h1M196 180.5h3M187 181.5h3M191 181.5h1M195 181.5h1M197 181.5h1M199 181.5h1M185 182.5h1M188 182.5h1M192 182.5h1M195 182.5h3M199 182.5h1M185 183.5h1M188 183.5h4M193 183.5h2M184 184.5h4M189 184.5h1M191 184.5h1M195 184.5h2M198 184.5h1M200 184.5h1M184 185.5h1M187 185.5h1M189 185.5h1M191 185.5h1M193 185.5h1M196 185.5h1M199 185.5h1M184 186.5h1M186 186.5h3M191 186.5h2M196 186.5h1M235 186.5h1M184 187.5h6M191 187.5h1M194 187.5h3M198 187.5h1M224 187.5h1M184 188.5h1M186 188.5h1M189 188.5h4M195 188.5h2M206 188.5h1M184 189.5h1M186 189.5h7M194 189.5h2M197 189.5h2M184 190.5h1M186 190.5h5M192 190.5h7M201 190.5h1M184 191.5h2M187 191.5h2M190 191.5h10M184 192.5h5M190 192.5h3M194 192.5h4M200 192.5h2M215 192.5h1M184 193.5h10M195 193.5h3M199 193.5h1M201 193.5h1M203 193.5h1M184 194.5h2M187 194.5h7M195 194.5h3M199 194.5h1M202 194.5h2M184 195.5h14M237 195.5h1M184 196.5h16M184 197.5h6M191 197.5h8M202 197.5h1M184 198.5h11M196 198.5h4M203 198.5h1M184 199.5h4M189 199.5h10M200 199.5h1M202 199.5h1M184 200.5h11M196 200.5h3M204 200.5h1M184 201.5h2M187 201.5h5M193 201.5h5M184 202.5h10M195 202.5h1M197 202.5h1M199 202.5h2M184 203.5h10M195 203.5h2M198 203.5h1M200 203.5h1"/>
<path class="a" d="M183.5 135.5H256.5V203.5H183.5Z"/>
<path class="g" d="M203.5 135.5V203.5M183.5 185.5H256.5"/>
<path class="t" d="M183.5 203.5v2.8M183.5 203.5h-3.4M188.99 203.5v1.6M183.5 198.38h-2M192.21 203.5v1.6M183.5 195.39h-2M194.49 203.5v1.6M183.5 193.26h-2M196.26 203.5v1.6M183.5 191.62h-2M197.7 203.5v1.6M183.5 190.27h-2M198.92 203.5v1.6M183.5 189.13h-2M199.98 203.5v1.6M183.5 188.15h-2M200.91 203.5v1.6M183.5 187.28h-2M201.75 203.5v2.8M183.5 186.5h-3.4M207.24 203.5v1.6M183.5 181.38h-2M210.46 203.5v1.6M183.5 178.39h-2M212.74 203.5v1.6M183.5 176.26h-2M214.51 203.5v1.6M183.5 174.62h-2M215.95 203.5v1.6M183.5 173.27h-2M217.17 203.5v1.6M183.5 172.13h-2M218.23 203.5v1.6M183.5 171.15h-2M219.16 203.5v1.6M183.5 170.28h-2M220 203.5v2.8M183.5 169.5h-3.4M225.49 203.5v1.6M183.5 164.38h-2M228.71 203.5v1.6M183.5 161.39h-2M230.99 203.5v1.6M183.5 159.26h-2M232.76 203.5v1.6M183.5 157.62h-2M234.2 203.5v1.6M183.5 156.27h-2M235.42 203.5v1.6M183.5 155.13h-2M236.48 203.5v1.6M183.5 154.15h-2M237.41 203.5v1.6M183.5 153.28h-2M238.25 203.5v2.8M183.5 152.5h-3.4M243.74 203.5v1.6M183.5 147.38h-2M246.96 203.5v1.6M183.5 144.39h-2M249.24 203.5v1.6M183.5 142.26h-2M251.01 203.5v1.6M183.5 140.62h-2M252.45 203.5v1.6M183.5 139.27h-2M253.67 203.5v1.6M183.5 138.13h-2M254.73 203.5v1.6M183.5 137.15h-2M255.66 203.5v1.6M183.5 136.28h-2M256.5 203.5v2.8M183.5 135.5h-3.4"/>
<text class="n" transform="translate(179.1 215.6) scale(.86 1)">10</text>
<text class="n" transform="translate(186.4 211.9) scale(.95 1)">0</text>
<text class="n" transform="translate(178 209.1) rotate(-90) scale(.85 1)">10</text>
<text class="n" transform="translate(173.8 201.2) rotate(-90) scale(.93 1)">0</text>
<text class="n" transform="translate(196.8 215.6) scale(.86 1)">10</text>
<text class="n" transform="translate(204.1 211.9) scale(.95 1)">1</text>
<text class="n" transform="translate(178 192.1) rotate(-90) scale(.85 1)">10</text>
<text class="n" transform="translate(173.8 184.2) rotate(-90) scale(.93 1)">1</text>
<text class="n" transform="translate(214.5 215.6) scale(.86 1)">10</text>
<text class="n" transform="translate(221.81 211.9) scale(.95 1)">2</text>
<text class="n" transform="translate(178 175.1) rotate(-90) scale(.85 1)">10</text>
<text class="n" transform="translate(173.8 167.2) rotate(-90) scale(.93 1)">2</text>
<text class="n" transform="translate(232.21 215.6) scale(.86 1)">10</text>
<text class="n" transform="translate(239.51 211.9) scale(.95 1)">3</text>
<text class="n" transform="translate(178 158.1) rotate(-90) scale(.85 1)">10</text>
<text class="n" transform="translate(173.8 150.2) rotate(-90) scale(.93 1)">3</text>
<text class="n" transform="translate(249.91 215.6) scale(.86 1)">10</text>
<text class="n" transform="translate(257.21 211.9) scale(.95 1)">4</text>
<text class="n" transform="translate(178 141.1) rotate(-90) scale(.85 1)">10</text>
<text class="n" transform="translate(173.8 133.2) rotate(-90) scale(.93 1)">4</text>
<text class="y" transform="translate(165.1 171.65) rotate(-90)" text-anchor="middle">B220</text>
<text class="p" x="253.4" y="146.5" text-anchor="end">41.7%</text>
<path class="d" filter="url(#b)" d="M362 158.5h1M362 161.5h1M360 162.5h1M361 164.5h1M355 165.5h1M358 165.5h2M365 165.5h1M367 165.5h1M369 165.5h1M356 166.5h1M358 166.5h2M361 166.5h4M366 166.5h2M369 166.5h1M371 166.5h1M379 166.5h1M353 167.5h3M357 167.5h5M363 167.5h2M366 167.5h3M371 167.5h1M374 167.5h1M351 168.5h1M353 168.5h4M358 168.5h14M373 168.5h2M345 169.5h1M350 169.5h21M374 169.5h2M327 170.5h1M343 170.5h1M351 170.5h3M355 170.5h16M373 170.5h2M325 171.5h1M345 171.5h1M348 171.5h25M374 171.5h2M325 172.5h1M329 172.5h1M332 172.5h4M347 172.5h1M349 172.5h24M378 172.5h1M321 173.5h1M329 173.5h3M347 173.5h2M350 173.5h24M376 173.5h2M321 174.5h1M324 174.5h1M326 174.5h4M332 174.5h2M346 174.5h1M348 174.5h1M350 174.5h23M375 174.5h2M379 174.5h2M321 175.5h1M324 175.5h4M329 175.5h1M334 175.5h1M336 175.5h1M341 175.5h1M346 175.5h5M352 175.5h21M321 176.5h2M325 176.5h1M327 176.5h1M329 176.5h2M341 176.5h1M344 176.5h2M348 176.5h5M354 176.5h16M371 176.5h2M374 176.5h1M376 176.5h1M321 177.5h1M323 177.5h3M327 177.5h1M329 177.5h2M332 177.5h1M334 177.5h2M340 177.5h1M344 177.5h1M349 177.5h2M352 177.5h17M323 178.5h1M325 178.5h3M329 178.5h5M337 178.5h1M344 178.5h1M349 178.5h1M354 178.5h3M358 178.5h12M372 178.5h3M321 179.5h1M327 179.5h1M329 179.5h1M332 179.5h1M334 179.5h1M345 179.5h1M348 179.5h1M355 179.5h1M358 179.5h8M368 179.5h2M371 179.5h1M324 180.5h4M331 180.5h2M335 180.5h1M356 180.5h1M358 180.5h1M360 180.5h1M362 180.5h1M364 180.5h1M366 180.5h1M322 181.5h3M329 181.5h1M331 181.5h1M348 181.5h1M357 181.5h1M361 181.5h1M365 181.5h1M335 182.5h1M363 182.5h1M371 182.5h1M326 184.5h3M360 184.5h1M322 185.5h3M326 185.5h3M330 185.5h1M334 185.5h1M347 185.5h1M321 186.5h1M325 186.5h2M328 186.5h2M331 186.5h1M339 186.5h1M321 187.5h2M324 187.5h1M328 187.5h7M336 187.5h2M342 187.5h1M347 187.5h1M323 188.5h2M326 188.5h7M334 188.5h4M339 188.5h1M341 188.5h1M350 188.5h1M321 189.5h1M323 189.5h2M326 189.5h1M328 189.5h10M342 189.5h1M321 190.5h17M339 190.5h2M343 190.5h1M345 190.5h1M321 191.5h18M321 192.5h22M363 192.5h1M321 193.5h20M342 193.5h3M353 193.5h1M321 194.5h20M342 194.5h1M344 194.5h1M321 195.5h17M339 195.5h1M361 195.5h1M321 196.5h21M343 196.5h1M321 197.5h20M343 197.5h1M321 198.5h20M321 199.5h24M351 199.5h1M361 199.5h1M376 199.5h1M321 200.5h21M344 200.5h1M321 201.5h19M341 201.5h3M345 201.5h1M321 202.5h18M341 202.5h2M377 202.5h1M321 203.5h1M323 203.5h16M340 203.5h1M321 204.5h20M342 204.5h1M364 204.5h1M367 204.5h1M371 204.5h1M321 205.5h1M323 205.5h12M336 205.5h3M341 205.5h1M344 205.5h1M321 206.5h17"/>
<path class="a" d="M320.5 139.5H393.5V206.5H320.5Z"/>
<path class="g" d="M341.5 139.5V206.5M320.5 187.5H393.5"/>
<path class="t" d="M320.5 206.5v2.8M320.5 206.5h-3.4M325.99 206.5v1.6M320.5 201.46h-2M329.21 206.5v1.6M320.5 198.51h-2M331.49 206.5v1.6M320.5 196.42h-2M333.26 206.5v1.6M320.5 194.79h-2M334.7 206.5v1.6M320.5 193.47h-2M335.92 206.5v1.6M320.5 192.34h-2M336.98 206.5v1.6M320.5 191.37h-2M337.91 206.5v1.6M320.5 190.52h-2M338.75 206.5v2.8M320.5 189.75h-3.4M344.24 206.5v1.6M320.5 184.71h-2M347.46 206.5v1.6M320.5 181.76h-2M349.74 206.5v1.6M320.5 179.67h-2M351.51 206.5v1.6M320.5 178.04h-2M352.95 206.5v1.6M320.5 176.72h-2M354.17 206.5v1.6M320.5 175.59h-2M355.23 206.5v1.6M320.5 174.62h-2M356.16 206.5v1.6M320.5 173.77h-2M357 206.5v2.8M320.5 173h-3.4M362.49 206.5v1.6M320.5 167.96h-2M365.71 206.5v1.6M320.5 165.01h-2M367.99 206.5v1.6M320.5 162.92h-2M369.76 206.5v1.6M320.5 161.29h-2M371.2 206.5v1.6M320.5 159.97h-2M372.42 206.5v1.6M320.5 158.84h-2M373.48 206.5v1.6M320.5 157.87h-2M374.41 206.5v1.6M320.5 157.02h-2M375.25 206.5v2.8M320.5 156.25h-3.4M380.74 206.5v1.6M320.5 151.21h-2M383.96 206.5v1.6M320.5 148.26h-2M386.24 206.5v1.6M320.5 146.17h-2M388.01 206.5v1.6M320.5 144.54h-2M389.45 206.5v1.6M320.5 143.22h-2M390.67 206.5v1.6M320.5 142.09h-2M391.73 206.5v1.6M320.5 141.12h-2M392.66 206.5v1.6M320.5 140.27h-2M393.5 206.5v2.8M320.5 139.5h-3.4"/>
<text class="n" transform="translate(316.1 218.6) scale(.86 1)">10</text>
<text class="n" transform="translate(323.4 214.9) scale(.95 1)">0</text>
<text class="n" transform="translate(314.5 212.1) rotate(-90) scale(.85 1)">10</text>
<text class="n" transform="translate(310.3 204.2) rotate(-90) scale(.93 1)">0</text>
<text class="n" transform="translate(333.8 218.6) scale(.86 1)">10</text>
<text class="n" transform="translate(341.1 214.9) scale(.95 1)">1</text>
<text class="n" transform="translate(314.5 195.35) rotate(-90) scale(.85 1)">10</text>
<text class="n" transform="translate(310.3 187.45) rotate(-90) scale(.93 1)">1</text>
<text class="n" transform="translate(351.5 218.6) scale(.86 1)">10</text>
<text class="n" transform="translate(358.81 214.9) scale(.95 1)">2</text>
<text class="n" transform="translate(314.5 178.6) rotate(-90) scale(.85 1)">10</text>
<text class="n" transform="translate(310.3 170.7) rotate(-90) scale(.93 1)">2</text>
<text class="n" transform="translate(369.21 218.6) scale(.86 1)">10</text>
<text class="n" transform="translate(376.51 214.9) scale(.95 1)">3</text>
<text class="n" transform="translate(314.5 161.85) rotate(-90) scale(.85 1)">10</text>
<text class="n" transform="translate(310.3 153.95) rotate(-90) scale(.93 1)">3</text>
<text class="n" transform="translate(386.91 218.6) scale(.86 1)">10</text>
<text class="n" transform="translate(394.21 214.9) scale(.95 1)">4</text>
<text class="n" transform="translate(314.5 145.1) rotate(-90) scale(.85 1)">10</text>
<text class="n" transform="translate(310.3 137.2) rotate(-90) scale(.93 1)">4</text>
<text class="y" transform="translate(302 174.25) rotate(-90)" text-anchor="middle">CD19</text>
<text class="p" x="390.7" y="150.7" text-anchor="end">10.4%</text>
<path class="d" filter="url(#b)" d="M491 155.5h1M468 156.5h1M462 157.5h1M446 159.5h1M469 159.5h1M472 159.5h1M475 159.5h2M481 159.5h1M484 159.5h2M442 160.5h1M444 160.5h1M446 160.5h1M449 160.5h1M473 160.5h1M475 160.5h1M477 160.5h2M481 160.5h1M483 160.5h2M486 160.5h1M439 161.5h1M443 161.5h1M446 161.5h2M449 161.5h1M453 161.5h2M461 161.5h1M470 161.5h1M472 161.5h1M475 161.5h5M481 161.5h1M484 161.5h1M440 162.5h2M443 162.5h7M452 162.5h1M457 162.5h1M466 162.5h1M468 162.5h1M471 162.5h10M482 162.5h2M485 162.5h2M488 162.5h1M441 163.5h1M444 163.5h9M454 163.5h1M456 163.5h1M465 163.5h1M467 163.5h1M470 163.5h3M474 163.5h9M486 163.5h1M439 164.5h5M445 164.5h9M455 164.5h1M461 164.5h1M467 164.5h1M469 164.5h11M481 164.5h3M485 164.5h1M487 164.5h1M491 164.5h2M442 165.5h9M452 165.5h1M457 165.5h1M459 165.5h1M465 165.5h2M468 165.5h19M496 165.5h2M442 166.5h2M445 166.5h2M448 166.5h5M454 166.5h1M457 166.5h1M465 166.5h1M467 166.5h21M489 166.5h1M442 167.5h2M445 167.5h2M448 167.5h1M451 167.5h2M454 167.5h2M457 167.5h1M467 167.5h4M472 167.5h16M439 168.5h1M447 168.5h1M449 168.5h1M453 168.5h1M462 168.5h1M465 168.5h1M467 168.5h21M489 168.5h1M491 168.5h2M509 168.5h1M443 169.5h1M445 169.5h2M451 169.5h1M454 169.5h1M463 169.5h1M466 169.5h24M491 169.5h1M493 169.5h2M441 170.5h1M444 170.5h1M452 170.5h1M454 170.5h2M466 170.5h2M470 170.5h21M492 170.5h3M499 170.5h1M449 171.5h1M452 171.5h1M456 171.5h1M464 171.5h1M468 171.5h1M470 171.5h20M491 171.5h1M442 172.5h1M447 172.5h2M456 172.5h2M464 172.5h1M467 172.5h1M470 172.5h18M489 172.5h2M439 173.5h2M443 173.5h3M447 173.5h2M455 173.5h2M467 173.5h2M470 173.5h1M472 173.5h14M487 173.5h4M493 173.5h1M441 174.5h2M453 174.5h2M456 174.5h2M464 174.5h1M471 174.5h14M487 174.5h6M439 175.5h1M442 175.5h1M448 175.5h2M459 175.5h1M467 175.5h20M488 175.5h2M494 175.5h1M444 176.5h1M446 176.5h2M455 176.5h1M457 176.5h1M463 176.5h1M466 176.5h1M468 176.5h2M471 176.5h1M473 176.5h13M488 176.5h3M493 176.5h1M443 177.5h1M446 177.5h1M465 177.5h1M469 177.5h1M473 177.5h2M476 177.5h1M478 177.5h6M485 177.5h4M490 177.5h1M445 178.5h1M450 178.5h1M453 178.5h1M456 178.5h1M468 178.5h1M472 178.5h3M476 178.5h2M479 178.5h7M487 178.5h1M441 179.5h1M447 179.5h2M451 179.5h2M471 179.5h1M477 179.5h1M482 179.5h1M445 180.5h1M447 180.5h1M449 180.5h1M453 180.5h1M461 180.5h1M467 180.5h1M469 180.5h1M478 180.5h1M482 180.5h2M485 180.5h1M491 180.5h2M440 181.5h1M442 181.5h1M444 181.5h1M448 181.5h3M453 181.5h3M445 182.5h1M449 182.5h1M451 182.5h1M453 182.5h1M471 182.5h1M483 182.5h1M440 183.5h2M444 183.5h1M446 183.5h1M450 183.5h3M455 183.5h1M485 183.5h2M447 184.5h1M451 184.5h1M453 184.5h1M456 184.5h1M469 184.5h2M443 185.5h1M446 185.5h1M450 185.5h2M453 185.5h1M477 185.5h1M439 186.5h2M442 186.5h5M448 186.5h4M453 186.5h4M458 186.5h1M439 187.5h17M484 187.5h1M439 188.5h5M445 188.5h2M448 188.5h2M451 188.5h6M439 189.5h15M455 189.5h1M457 189.5h1M476 189.5h1M488 189.5h1M439 190.5h18M458 190.5h3M439 191.5h21M481 191.5h1M439 192.5h19M460 192.5h2M471 192.5h1M480 192.5h1M497 192.5h1M439 193.5h22M493 193.5h1M439 194.5h22M439 195.5h18M458 195.5h1M460 195.5h3M474 195.5h1M439 196.5h20M460 196.5h3M439 197.5h18M458 197.5h2M484 197.5h1M498 197.5h1M439 198.5h20M463 198.5h1M490 198.5h1M498 198.5h1M439 199.5h21M477 199.5h1M490 199.5h1M493 199.5h1M439 200.5h18M458 200.5h3M439 201.5h21M461 201.5h2M476 201.5h1M439 202.5h18M458 202.5h2M461 202.5h2M466 202.5h1M439 203.5h16M456 203.5h5M483 203.5h1M491 203.5h2M439 204.5h17M457 204.5h1M459 204.5h2M462 204.5h1M464 204.5h1M473 204.5h1M439 205.5h1M441 205.5h15M461 205.5h1M439 206.5h20M460 206.5h2"/>
<path class="a" d="M438.5 139.5H509.5V206.5H438.5Z"/>
<path class="g" d="M458.5 139.5V206.5M438.5 187.5H509.5"/>
<path class="t" d="M438.5 206.5v2.8M438.5 206.5h-3.4M443.84 206.5v1.6M438.5 201.46h-2M446.97 206.5v1.6M438.5 198.51h-2M449.19 206.5v1.6M438.5 196.42h-2M450.91 206.5v1.6M438.5 194.79h-2M452.31 206.5v1.6M438.5 193.47h-2M453.5 206.5v1.6M438.5 192.34h-2M454.53 206.5v1.6M438.5 191.37h-2M455.44 206.5v1.6M438.5 190.52h-2M456.25 206.5v2.8M438.5 189.75h-3.4M461.59 206.5v1.6M438.5 184.71h-2M464.72 206.5v1.6M438.5 181.76h-2M466.94 206.5v1.6M438.5 179.67h-2M468.66 206.5v1.6M438.5 178.04h-2M470.06 206.5v1.6M438.5 176.72h-2M471.25 206.5v1.6M438.5 175.59h-2M472.28 206.5v1.6M438.5 174.62h-2M473.19 206.5v1.6M438.5 173.77h-2M474 206.5v2.8M438.5 173h-3.4M479.34 206.5v1.6M438.5 167.96h-2M482.47 206.5v1.6M438.5 165.01h-2M484.69 206.5v1.6M438.5 162.92h-2M486.41 206.5v1.6M438.5 161.29h-2M487.81 206.5v1.6M438.5 159.97h-2M489 206.5v1.6M438.5 158.84h-2M490.03 206.5v1.6M438.5 157.87h-2M490.94 206.5v1.6M438.5 157.02h-2M491.75 206.5v2.8M438.5 156.25h-3.4M497.09 206.5v1.6M438.5 151.21h-2M500.22 206.5v1.6M438.5 148.26h-2M502.44 206.5v1.6M438.5 146.17h-2M504.16 206.5v1.6M438.5 144.54h-2M505.56 206.5v1.6M438.5 143.22h-2M506.75 206.5v1.6M438.5 142.09h-2M507.78 206.5v1.6M438.5 141.12h-2M508.69 206.5v1.6M438.5 140.27h-2M509.5 206.5v2.8M438.5 139.5h-3.4"/>
<text class="n" transform="translate(434.1 218.6) scale(.86 1)">10</text>
<text class="n" transform="translate(441.4 214.9) scale(.95 1)">0</text>
<text class="n" transform="translate(432.6 212.1) rotate(-90) scale(.85 1)">10</text>
<text class="n" transform="translate(428.4 204.2) rotate(-90) scale(.93 1)">0</text>
<text class="n" transform="translate(451.32 218.6) scale(.86 1)">10</text>
<text class="n" transform="translate(458.62 214.9) scale(.95 1)">1</text>
<text class="n" transform="translate(432.6 195.35) rotate(-90) scale(.85 1)">10</text>
<text class="n" transform="translate(428.4 187.45) rotate(-90) scale(.93 1)">1</text>
<text class="n" transform="translate(468.54 218.6) scale(.86 1)">10</text>
<text class="n" transform="translate(475.84 214.9) scale(.95 1)">2</text>
<text class="n" transform="translate(432.6 178.6) rotate(-90) scale(.85 1)">10</text>
<text class="n" transform="translate(428.4 170.7) rotate(-90) scale(.93 1)">2</text>
<text class="n" transform="translate(485.75 218.6) scale(.86 1)">10</text>
<text class="n" transform="translate(493.05 214.9) scale(.95 1)">3</text>
<text class="n" transform="translate(432.6 161.85) rotate(-90) scale(.85 1)">10</text>
<text class="n" transform="translate(428.4 153.95) rotate(-90) scale(.93 1)">3</text>
<text class="n" transform="translate(502.97 218.6) scale(.86 1)">10</text>
<text class="n" transform="translate(510.27 214.9) scale(.95 1)">4</text>
<text class="n" transform="translate(432.6 145.1) rotate(-90) scale(.85 1)">10</text>
<text class="n" transform="translate(428.4 137.2) rotate(-90) scale(.93 1)">4</text>
<text class="y" transform="translate(420.7 173.7) rotate(-90)" text-anchor="middle">B220</text>
<text class="p" x="506.7" y="150.7" text-anchor="end">10.4%</text>
<path class="d" filter="url(#b)" d="M105 259.5h1M112 259.5h1M109 261.5h1M81 262.5h1M99 262.5h1M103 262.5h2M107 262.5h4M114 262.5h1M125 262.5h1M92 263.5h1M98 263.5h1M100 263.5h3M104 263.5h1M106 263.5h1M108 263.5h2M113 263.5h1M88 264.5h1M90 264.5h1M97 264.5h1M99 264.5h13M113 264.5h1M115 264.5h2M118 264.5h1M86 265.5h1M96 265.5h1M98 265.5h14M113 265.5h1M115 265.5h1M117 265.5h1M120 265.5h1M65 266.5h1M69 266.5h2M72 266.5h1M78 266.5h1M95 266.5h16M113 266.5h4M118 266.5h2M66 267.5h1M68 267.5h1M72 267.5h2M78 267.5h1M94 267.5h21M118 267.5h1M65 268.5h1M69 268.5h7M77 268.5h2M80 268.5h2M92 268.5h23M65 269.5h14M80 269.5h1M82 269.5h1M88 269.5h2M91 269.5h20M113 269.5h3M122 269.5h1M124 269.5h1M65 270.5h1M67 270.5h12M80 270.5h9M90 270.5h25M116 270.5h1M65 271.5h13M79 271.5h2M82 271.5h30M65 272.5h15M81 272.5h4M86 272.5h22M109 272.5h1M111 272.5h2M115 272.5h1M65 273.5h1M67 273.5h13M81 273.5h5M88 273.5h1M90 273.5h13M104 273.5h1M106 273.5h1M108 273.5h1M65 274.5h2M68 274.5h6M75 274.5h6M82 274.5h1M84 274.5h1M92 274.5h15M65 275.5h6M72 275.5h2M75 275.5h1M77 275.5h2M81 275.5h1M91 275.5h1M94 275.5h1M97 275.5h1M99 275.5h2M103 275.5h2M110 275.5h1M65 276.5h1M67 276.5h1M70 276.5h1M72 276.5h1M76 276.5h2M88 276.5h1M90 276.5h2M96 276.5h1M101 276.5h2M106 276.5h1M65 277.5h2M69 277.5h1M71 277.5h1M79 277.5h1M94 277.5h1M104 277.5h1M65 278.5h1M74 279.5h1M76 279.5h1M104 279.5h1M66 280.5h1M77 280.5h1M80 280.5h1M65 281.5h1M70 281.5h1M72 281.5h3M77 281.5h1M65 282.5h2M68 282.5h1M73 282.5h1M75 282.5h4M80 282.5h1M65 283.5h1M70 283.5h7M78 283.5h3M82 283.5h1M100 283.5h1M65 284.5h10M76 284.5h5M82 284.5h1M111 284.5h1M65 285.5h9M75 285.5h7M65 286.5h2M68 286.5h15M94 286.5h1M117 286.5h1M123 286.5h1M65 287.5h17M86 287.5h1M125 287.5h1M65 288.5h18M117 288.5h2M65 289.5h16M82 289.5h2M86 289.5h2M105 289.5h1M118 289.5h1M121 289.5h1M65 290.5h20M91 290.5h1M119 290.5h2M65 291.5h21M115 291.5h1M117 291.5h1M121 291.5h1M65 292.5h22M116 292.5h1M118 292.5h1M122 292.5h1M65 293.5h18M84 293.5h1M86 293.5h1M88 293.5h1M117 293.5h1M123 293.5h1M65 294.5h20M87 294.5h1M91 294.5h1M65 295.5h19M85 295.5h2M65 296.5h20M86 296.5h1M116 296.5h1M118 296.5h1M65 297.5h22M88 297.5h1M101 297.5h2M65 298.5h20M65 299.5h17M83 299.5h2M88 299.5h1M65 300.5h16M82 300.5h2M65 301.5h17M83 301.5h2M87 301.5h1M110 301.5h1M65 302.5h20M65 303.5h15M81 303.5h5"/>
<path class="a" d="M64.5 235.5H136.5V303.5H64.5Z"/>
<path class="g" d="M85.5 235.5V303.5M64.5 284.5H136.5"/>
<path class="t" d="M64.5 303.5v2.8M64.5 303.5h-3.4M69.92 303.5v1.6M64.5 298.38h-2M73.09 303.5v1.6M64.5 295.39h-2M75.34 303.5v1.6M64.5 293.26h-2M77.08 303.5v1.6M64.5 291.62h-2M78.51 303.5v1.6M64.5 290.27h-2M79.71 303.5v1.6M64.5 289.13h-2M80.76 303.5v1.6M64.5 288.15h-2M81.68 303.5v1.6M64.5 287.28h-2M82.5 303.5v2.8M64.5 286.5h-3.4M87.92 303.5v1.6M64.5 281.38h-2M91.09 303.5v1.6M64.5 278.39h-2M93.34 303.5v1.6M64.5 276.26h-2M95.08 303.5v1.6M64.5 274.62h-2M96.51 303.5v1.6M64.5 273.27h-2M97.71 303.5v1.6M64.5 272.13h-2M98.76 303.5v1.6M64.5 271.15h-2M99.68 303.5v1.6M64.5 270.28h-2M100.5 303.5v2.8M64.5 269.5h-3.4M105.92 303.5v1.6M64.5 264.38h-2M109.09 303.5v1.6M64.5 261.39h-2M111.34 303.5v1.6M64.5 259.26h-2M113.08 303.5v1.6M64.5 257.62h-2M114.51 303.5v1.6M64.5 256.27h-2M115.71 303.5v1.6M64.5 255.13h-2M116.76 303.5v1.6M64.5 254.15h-2M117.68 303.5v1.6M64.5 253.28h-2M118.5 303.5v2.8M64.5 252.5h-3.4M123.92 303.5v1.6M64.5 247.38h-2M127.09 303.5v1.6M64.5 244.39h-2M129.34 303.5v1.6M64.5 242.26h-2M131.08 303.5v1.6M64.5 240.62h-2M132.51 303.5v1.6M64.5 239.27h-2M133.71 303.5v1.6M64.5 238.13h-2M134.76 303.5v1.6M64.5 237.15h-2M135.68 303.5v1.6M64.5 236.28h-2M136.5 303.5v2.8M64.5 235.5h-3.4"/>
<text class="n" transform="translate(60.1 315.6) scale(.86 1)">10</text>
<text class="n" transform="translate(67.4 311.9) scale(.95 1)">0</text>
<text class="n" transform="translate(58.9 309.1) rotate(-90) scale(.85 1)">10</text>
<text class="n" transform="translate(54.7 301.2) rotate(-90) scale(.93 1)">0</text>
<text class="n" transform="translate(77.56 315.6) scale(.86 1)">10</text>
<text class="n" transform="translate(84.86 311.9) scale(.95 1)">1</text>
<text class="n" transform="translate(58.9 292.1) rotate(-90) scale(.85 1)">10</text>
<text class="n" transform="translate(54.7 284.2) rotate(-90) scale(.93 1)">1</text>
<text class="n" transform="translate(95.02 315.6) scale(.86 1)">10</text>
<text class="n" transform="translate(102.32 311.9) scale(.95 1)">2</text>
<text class="n" transform="translate(58.9 275.1) rotate(-90) scale(.85 1)">10</text>
<text class="n" transform="translate(54.7 267.2) rotate(-90) scale(.93 1)">2</text>
<text class="n" transform="translate(112.48 315.6) scale(.86 1)">10</text>
<text class="n" transform="translate(119.78 311.9) scale(.95 1)">3</text>
<text class="n" transform="translate(58.9 258.1) rotate(-90) scale(.85 1)">10</text>
<text class="n" transform="translate(54.7 250.2) rotate(-90) scale(.93 1)">3</text>
<text class="n" transform="translate(129.94 315.6) scale(.86 1)">10</text>
<text class="n" transform="translate(137.24 311.9) scale(.95 1)">4</text>
<text class="n" transform="translate(58.9 241.1) rotate(-90) scale(.85 1)">10</text>
<text class="n" transform="translate(54.7 233.2) rotate(-90) scale(.93 1)">4</text>
<text class="y" transform="translate(45.6 272.45) rotate(-90)" text-anchor="middle">CD19</text>
<text class="p" x="133.9" y="245.9" text-anchor="end">15.2%</text>
<path class="d" filter="url(#b)" d="M226 244.5h1M221 246.5h2M225 246.5h1M235 246.5h1M219 247.5h1M184 248.5h1M201 248.5h1M202 249.5h1M204 249.5h1M209 249.5h1M211 249.5h1M213 249.5h2M216 249.5h2M227 249.5h1M184 250.5h1M190 250.5h2M196 250.5h1M202 250.5h1M213 250.5h1M215 250.5h1M217 250.5h2M220 250.5h4M184 251.5h1M187 251.5h2M190 251.5h1M193 251.5h2M199 251.5h1M209 251.5h1M212 251.5h5M218 251.5h2M221 251.5h1M224 251.5h1M227 251.5h2M230 251.5h3M234 251.5h1M236 251.5h1M186 252.5h1M188 252.5h1M190 252.5h3M194 252.5h2M213 252.5h10M228 252.5h1M184 253.5h9M196 253.5h1M201 253.5h1M203 253.5h1M207 253.5h5M213 253.5h3M217 253.5h9M227 253.5h1M184 254.5h5M190 254.5h6M197 254.5h1M199 254.5h2M205 254.5h1M209 254.5h1M212 254.5h16M229 254.5h3M235 254.5h1M184 255.5h2M187 255.5h6M194 255.5h3M198 255.5h1M200 255.5h4M208 255.5h17M226 255.5h5M232 255.5h1M184 256.5h9M194 256.5h5M207 256.5h1M211 256.5h11M223 256.5h4M229 256.5h5M184 257.5h17M206 257.5h1M208 257.5h1M211 257.5h5M217 257.5h7M225 257.5h3M229 257.5h2M234 257.5h1M236 257.5h2M184 258.5h1M186 258.5h8M195 258.5h2M198 258.5h2M210 258.5h2M213 258.5h16M230 258.5h1M232 258.5h2M237 258.5h1M185 259.5h12M198 259.5h4M211 259.5h22M240 259.5h1M184 260.5h10M195 260.5h1M199 260.5h1M212 260.5h21M184 261.5h1M186 261.5h1M188 261.5h2M192 261.5h2M195 261.5h3M202 261.5h1M209 261.5h3M213 261.5h19M235 261.5h2M239 261.5h1M186 262.5h2M194 262.5h1M200 262.5h1M202 262.5h1M206 262.5h1M213 262.5h1M216 262.5h3M220 262.5h11M232 262.5h3M189 263.5h1M192 263.5h1M195 263.5h1M204 263.5h1M207 263.5h2M211 263.5h1M213 263.5h1M215 263.5h17M242 263.5h1M188 264.5h2M194 264.5h1M202 264.5h2M206 264.5h1M213 264.5h17M233 264.5h1M236 264.5h1M184 265.5h1M186 265.5h1M196 265.5h1M199 265.5h1M206 265.5h1M210 265.5h1M212 265.5h2M215 265.5h1M217 265.5h3M221 265.5h6M229 265.5h3M234 265.5h2M238 265.5h1M184 266.5h1M190 266.5h1M194 266.5h1M199 266.5h1M208 266.5h2M212 266.5h1M214 266.5h1M216 266.5h2M219 266.5h1M221 266.5h2M224 266.5h2M227 266.5h2M234 266.5h1M248 266.5h1M188 267.5h2M192 267.5h1M196 267.5h2M202 267.5h1M211 267.5h1M213 267.5h1M217 267.5h2M220 267.5h7M228 267.5h1M232 267.5h2M235 267.5h1M190 268.5h1M197 268.5h1M200 268.5h2M217 268.5h1M219 268.5h2M223 268.5h4M228 268.5h4M233 268.5h1M184 269.5h1M193 269.5h1M195 269.5h1M198 269.5h1M203 269.5h1M211 269.5h1M220 269.5h1M222 269.5h1M227 269.5h2M230 269.5h1M234 269.5h1M184 270.5h1M187 270.5h1M189 270.5h1M193 270.5h1M196 270.5h1M199 270.5h1M201 270.5h1M220 270.5h2M223 270.5h2M229 270.5h1M236 270.5h3M243 270.5h1M247 270.5h1M184 271.5h3M192 271.5h1M196 271.5h1M199 271.5h1M201 271.5h1M203 271.5h1M213 271.5h3M217 271.5h3M223 271.5h1M225 271.5h1M228 271.5h2M186 272.5h3M190 272.5h1M192 272.5h1M194 272.5h2M199 272.5h1M207 272.5h1M216 272.5h1M229 272.5h2M233 272.5h1M237 272.5h1M184 273.5h1M187 273.5h2M190 273.5h1M192 273.5h2M195 273.5h1M198 273.5h2M225 273.5h1M227 273.5h2M233 273.5h1M184 274.5h1M188 274.5h3M193 274.5h1M196 274.5h2M199 274.5h1M212 274.5h1M221 274.5h1M227 274.5h1M184 275.5h1M187 275.5h2M190 275.5h1M192 275.5h7M202 275.5h1M221 275.5h1M227 275.5h1M234 275.5h1M184 276.5h1M188 276.5h6M199 276.5h1M188 277.5h4M194 277.5h2M184 278.5h2M188 278.5h6M195 278.5h1M212 278.5h2M220 278.5h1M184 279.5h1M186 279.5h1M188 279.5h1M190 279.5h1M193 279.5h1M195 279.5h2M199 279.5h2M203 279.5h2M218 279.5h1M235 279.5h1M237 279.5h1M243 279.5h1M184 280.5h1M187 280.5h2M190 280.5h2M193 280.5h1M197 280.5h2M200 280.5h1M220 280.5h1M225 280.5h1M186 281.5h2M189 281.5h5M196 281.5h3M211 281.5h1M238 281.5h1M184 282.5h1M188 282.5h5M194 282.5h6M219 282.5h1M240 282.5h1M184 283.5h4M189 283.5h12M202 283.5h1M206 283.5h1M231 283.5h1M184 284.5h3M188 284.5h10M201 284.5h1M209 284.5h1M224 284.5h1M239 284.5h1M184 285.5h13M198 285.5h1M200 285.5h1M202 285.5h2M213 285.5h1M184 286.5h2M187 286.5h13M184 287.5h14M199 287.5h1M203 287.5h1M205 287.5h1M214 287.5h1M233 287.5h1M184 288.5h16M221 288.5h1M224 288.5h1M184 289.5h4M189 289.5h13M226 289.5h1M184 290.5h18M217 290.5h1M232 290.5h1M184 291.5h15M200 291.5h3M204 291.5h2M207 291.5h1M211 291.5h1M184 292.5h21M225 292.5h1M233 292.5h1M237 292.5h1M184 293.5h18M204 293.5h1M184 294.5h21M206 294.5h1M184 295.5h19M227 295.5h1M184 296.5h17M202 296.5h2M184 297.5h18M204 297.5h1M207 297.5h1M215 297.5h1M241 297.5h1M184 298.5h18M231 298.5h1M184 299.5h19M204 299.5h1M184 300.5h16M201 300.5h2M243 300.5h1M184 301.5h19M184 302.5h13M198 302.5h1M200 302.5h2M205 302.5h1M227 302.5h1M184 303.5h19M209 303.5h1"/>
<path class="a" d="M183.5 235.5H255.5V303.5H183.5Z"/>
<path class="g" d="M203.5 235.5V303.5M183.5 284.5H255.5"/>
<path class="t" d="M183.5 303.5v2.8M183.5 303.5h-3.4M188.92 303.5v1.6M183.5 298.38h-2M192.09 303.5v1.6M183.5 295.39h-2M194.34 303.5v1.6M183.5 293.26h-2M196.08 303.5v1.6M183.5 291.62h-2M197.51 303.5v1.6M183.5 290.27h-2M198.71 303.5v1.6M183.5 289.13h-2M199.76 303.5v1.6M183.5 288.15h-2M200.68 303.5v1.6M183.5 287.28h-2M201.5 303.5v2.8M183.5 286.5h-3.4M206.92 303.5v1.6M183.5 281.38h-2M210.09 303.5v1.6M183.5 278.39h-2M212.34 303.5v1.6M183.5 276.26h-2M214.08 303.5v1.6M183.5 274.62h-2M215.51 303.5v1.6M183.5 273.27h-2M216.71 303.5v1.6M183.5 272.13h-2M217.76 303.5v1.6M183.5 271.15h-2M218.68 303.5v1.6M183.5 270.28h-2M219.5 303.5v2.8M183.5 269.5h-3.4M224.92 303.5v1.6M183.5 264.38h-2M228.09 303.5v1.6M183.5 261.39h-2M230.34 303.5v1.6M183.5 259.26h-2M232.08 303.5v1.6M183.5 257.62h-2M233.51 303.5v1.6M183.5 256.27h-2M234.71 303.5v1.6M183.5 255.13h-2M235.76 303.5v1.6M183.5 254.15h-2M236.68 303.5v1.6M183.5 253.28h-2M237.5 303.5v2.8M183.5 252.5h-3.4M242.92 303.5v1.6M183.5 247.38h-2M246.09 303.5v1.6M183.5 244.39h-2M248.34 303.5v1.6M183.5 242.26h-2M250.08 303.5v1.6M183.5 240.62h-2M251.51 303.5v1.6M183.5 239.27h-2M252.71 303.5v1.6M183.5 238.13h-2M253.76 303.5v1.6M183.5 237.15h-2M254.68 303.5v1.6M183.5 236.28h-2M255.5 303.5v2.8M183.5 235.5h-3.4"/>
<text class="n" transform="translate(179.1 315.6) scale(.86 1)">10</text>
<text class="n" transform="translate(186.4 311.9) scale(.95 1)">0</text>
<text class="n" transform="translate(178 309.1) rotate(-90) scale(.85 1)">10</text>
<text class="n" transform="translate(173.8 301.2) rotate(-90) scale(.93 1)">0</text>
<text class="n" transform="translate(196.56 315.6) scale(.86 1)">10</text>
<text class="n" transform="translate(203.86 311.9) scale(.95 1)">1</text>
<text class="n" transform="translate(178 292.1) rotate(-90) scale(.85 1)">10</text>
<text class="n" transform="translate(173.8 284.2) rotate(-90) scale(.93 1)">1</text>
<text class="n" transform="translate(214.02 315.6) scale(.86 1)">10</text>
<text class="n" transform="translate(221.32 311.9) scale(.95 1)">2</text>
<text class="n" transform="translate(178 275.1) rotate(-90) scale(.85 1)">10</text>
<text class="n" transform="translate(173.8 267.2) rotate(-90) scale(.93 1)">2</text>
<text class="n" transform="translate(231.48 315.6) scale(.86 1)">10</text>
<text class="n" transform="translate(238.78 311.9) scale(.95 1)">3</text>
<text class="n" transform="translate(178 258.1) rotate(-90) scale(.85 1)">10</text>
<text class="n" transform="translate(173.8 250.2) rotate(-90) scale(.93 1)">3</text>
<text class="n" transform="translate(248.94 315.6) scale(.86 1)">10</text>
<text class="n" transform="translate(256.24 311.9) scale(.95 1)">4</text>
<text class="n" transform="translate(178 241.1) rotate(-90) scale(.85 1)">10</text>
<text class="n" transform="translate(173.8 233.2) rotate(-90) scale(.93 1)">4</text>
<text class="y" transform="translate(165.1 271.7) rotate(-90)" text-anchor="middle">B220</text>
<text class="p" x="253.1" y="247" text-anchor="end">15.2%</text>
<path class="d" filter="url(#b)" d="M371 259.5h1M365 260.5h2M356 261.5h1M366 261.5h1M356 262.5h1M361 262.5h2M365 262.5h1M350 263.5h1M354 263.5h1M356 263.5h2M361 263.5h1M364 263.5h3M368 263.5h2M374 263.5h1M352 264.5h1M355 264.5h2M358 264.5h7M366 264.5h3M391 264.5h1M348 265.5h1M350 265.5h1M353 265.5h1M355 265.5h16M379 265.5h1M321 266.5h1M327 266.5h1M337 266.5h1M347 266.5h5M353 266.5h1M355 266.5h13M369 266.5h1M371 266.5h2M374 266.5h2M321 267.5h1M330 267.5h1M348 267.5h4M353 267.5h18M375 267.5h2M378 267.5h1M319 268.5h2M322 268.5h4M327 268.5h1M329 268.5h1M331 268.5h1M334 268.5h1M343 268.5h1M345 268.5h26M372 268.5h2M319 269.5h6M326 269.5h1M328 269.5h3M332 269.5h3M341 269.5h1M343 269.5h29M373 269.5h1M319 270.5h2M322 270.5h9M332 270.5h2M344 270.5h26M371 270.5h1M319 271.5h13M334 271.5h1M341 271.5h1M345 271.5h25M371 271.5h1M319 272.5h15M342 272.5h2M345 272.5h23M369 272.5h2M319 273.5h18M343 273.5h25M369 273.5h1M371 273.5h2M319 274.5h14M334 274.5h1M343 274.5h4M348 274.5h16M366 274.5h1M319 275.5h16M345 275.5h1M347 275.5h3M351 275.5h12M364 275.5h1M319 276.5h3M323 276.5h7M331 276.5h2M341 276.5h1M344 276.5h1M348 276.5h5M354 276.5h12M367 276.5h1M319 277.5h1M322 277.5h10M335 277.5h1M339 277.5h1M343 277.5h2M349 277.5h1M351 277.5h1M353 277.5h2M356 277.5h1M358 277.5h2M319 278.5h1M321 278.5h2M324 278.5h4M329 278.5h1M331 278.5h3M348 278.5h2M353 278.5h1M358 278.5h1M320 279.5h1M325 279.5h4M333 279.5h1M350 279.5h1M323 280.5h2M335 280.5h2M321 281.5h1M324 281.5h3M329 281.5h1M333 281.5h2M336 281.5h1M319 282.5h1M322 282.5h1M324 282.5h1M326 282.5h1M330 282.5h2M334 282.5h1M322 283.5h1M324 283.5h2M327 283.5h5M333 283.5h4M372 283.5h1M320 284.5h1M322 284.5h10M335 284.5h1M356 284.5h1M320 285.5h11M332 285.5h5M338 285.5h1M361 285.5h1M319 286.5h11M331 286.5h1M333 286.5h1M335 286.5h2M339 286.5h1M351 286.5h1M354 286.5h1M364 286.5h1M319 287.5h17M337 287.5h1M345 287.5h1M355 287.5h1M319 288.5h16M336 288.5h1M339 288.5h2M349 288.5h1M377 288.5h2M319 289.5h20M345 289.5h1M319 290.5h19M339 290.5h1M319 291.5h20M340 291.5h1M352 291.5h2M367 291.5h1M319 292.5h21M342 292.5h1M363 292.5h1M372 292.5h1M379 292.5h1M319 293.5h20M345 293.5h2M354 293.5h1M372 293.5h1M319 294.5h22M369 294.5h1M319 295.5h20M340 295.5h1M319 296.5h21M374 296.5h1M319 297.5h18M338 297.5h3M365 297.5h1M319 298.5h20M353 298.5h1M364 298.5h1M369 298.5h1M372 298.5h1M319 299.5h18M338 299.5h1M341 299.5h1M347 299.5h1M353 299.5h1M319 300.5h15M335 300.5h1M338 300.5h1M350 300.5h1M355 300.5h1M319 301.5h18M363 301.5h1M366 301.5h1M319 302.5h16M336 302.5h2M339 302.5h1M343 302.5h2M319 303.5h18"/>
<path class="a" d="M318.5 236.5H391.5V303.5H318.5Z"/>
<path class="g" d="M339.5 236.5V303.5M318.5 284.5H391.5"/>
<path class="t" d="M318.5 303.5v2.8M318.5 303.5h-3.4M323.99 303.5v1.6M318.5 298.46h-2M327.21 303.5v1.6M318.5 295.51h-2M329.49 303.5v1.6M318.5 293.42h-2M331.26 303.5v1.6M318.5 291.79h-2M332.7 303.5v1.6M318.5 290.47h-2M333.92 303.5v1.6M318.5 289.34h-2M334.98 303.5v1.6M318.5 288.37h-2M335.91 303.5v1.6M318.5 287.52h-2M336.75 303.5v2.8M318.5 286.75h-3.4M342.24 303.5v1.6M318.5 281.71h-2M345.46 303.5v1.6M318.5 278.76h-2M347.74 303.5v1.6M318.5 276.67h-2M349.51 303.5v1.6M318.5 275.04h-2M350.95 303.5v1.6M318.5 273.72h-2M352.17 303.5v1.6M318.5 272.59h-2M353.23 303.5v1.6M318.5 271.62h-2M354.16 303.5v1.6M318.5 270.77h-2M355 303.5v2.8M318.5 270h-3.4M360.49 303.5v1.6M318.5 264.96h-2M363.71 303.5v1.6M318.5 262.01h-2M365.99 303.5v1.6M318.5 259.92h-2M367.76 303.5v1.6M318.5 258.29h-2M369.2 303.5v1.6M318.5 256.97h-2M370.42 303.5v1.6M318.5 255.84h-2M371.48 303.5v1.6M318.5 254.87h-2M372.41 303.5v1.6M318.5 254.02h-2M373.25 303.5v2.8M318.5 253.25h-3.4M378.74 303.5v1.6M318.5 248.21h-2M381.96 303.5v1.6M318.5 245.26h-2M384.24 303.5v1.6M318.5 243.17h-2M386.01 303.5v1.6M318.5 241.54h-2M387.45 303.5v1.6M318.5 240.22h-2M388.67 303.5v1.6M318.5 239.09h-2M389.73 303.5v1.6M318.5 238.12h-2M390.66 303.5v1.6M318.5 237.27h-2M391.5 303.5v2.8M318.5 236.5h-3.4"/>
<text class="n" transform="translate(314.1 315.6) scale(.86 1)">10</text>
<text class="n" transform="translate(321.4 311.9) scale(.95 1)">0</text>
<text class="n" transform="translate(312.6 309.1) rotate(-90) scale(.85 1)">10</text>
<text class="n" transform="translate(308.4 301.2) rotate(-90) scale(.93 1)">0</text>
<text class="n" transform="translate(331.8 315.6) scale(.86 1)">10</text>
<text class="n" transform="translate(339.1 311.9) scale(.95 1)">1</text>
<text class="n" transform="translate(312.6 292.35) rotate(-90) scale(.85 1)">10</text>
<text class="n" transform="translate(308.4 284.45) rotate(-90) scale(.93 1)">1</text>
<text class="n" transform="translate(349.5 315.6) scale(.86 1)">10</text>
<text class="n" transform="translate(356.81 311.9) scale(.95 1)">2</text>
<text class="n" transform="translate(312.6 275.6) rotate(-90) scale(.85 1)">10</text>
<text class="n" transform="translate(308.4 267.7) rotate(-90) scale(.93 1)">2</text>
<text class="n" transform="translate(367.21 315.6) scale(.86 1)">10</text>
<text class="n" transform="translate(374.51 311.9) scale(.95 1)">3</text>
<text class="n" transform="translate(312.6 258.85) rotate(-90) scale(.85 1)">10</text>
<text class="n" transform="translate(308.4 250.95) rotate(-90) scale(.93 1)">3</text>
<text class="n" transform="translate(384.91 315.6) scale(.86 1)">10</text>
<text class="n" transform="translate(392.21 311.9) scale(.95 1)">4</text>
<text class="n" transform="translate(312.6 242.1) rotate(-90) scale(.85 1)">10</text>
<text class="n" transform="translate(308.4 234.2) rotate(-90) scale(.93 1)">4</text>
<text class="y" transform="translate(300.1 271.3) rotate(-90)" text-anchor="middle">CD19</text>
<text class="p" x="389" y="247.3" text-anchor="end">17.1%</text>
<path class="d" filter="url(#b)" d="M494 250.5h1M450 251.5h1M464 252.5h1M485 252.5h1M489 252.5h1M448 253.5h1M451 253.5h1M480 253.5h1M491 253.5h1M444 254.5h1M449 254.5h2M454 254.5h1M471 254.5h1M476 254.5h1M486 254.5h1M443 255.5h2M447 255.5h5M454 255.5h5M461 255.5h1M466 255.5h2M473 255.5h1M476 255.5h2M481 255.5h1M483 255.5h2M490 255.5h2M445 256.5h2M448 256.5h2M451 256.5h9M463 256.5h2M471 256.5h1M473 256.5h3M478 256.5h1M483 256.5h1M485 256.5h2M488 256.5h1M493 256.5h1M443 257.5h2M446 257.5h12M459 257.5h1M463 257.5h1M471 257.5h3M476 257.5h9M486 257.5h1M488 257.5h1M495 257.5h1M500 257.5h1M444 258.5h14M466 258.5h2M470 258.5h2M475 258.5h9M485 258.5h2M488 258.5h1M444 259.5h14M459 259.5h1M462 259.5h1M468 259.5h1M471 259.5h1M473 259.5h14M488 259.5h4M493 259.5h1M445 260.5h14M468 260.5h1M470 260.5h16M487 260.5h1M489 260.5h3M498 260.5h1M443 261.5h17M461 261.5h1M464 261.5h1M473 261.5h16M490 261.5h4M497 261.5h1M444 262.5h13M460 262.5h2M467 262.5h2M470 262.5h2M473 262.5h16M490 262.5h5M499 262.5h1M444 263.5h1M446 263.5h1M448 263.5h9M461 263.5h1M467 263.5h1M469 263.5h2M472 263.5h18M491 263.5h1M499 263.5h1M446 264.5h1M449 264.5h1M452 264.5h4M457 264.5h1M460 264.5h2M469 264.5h23M497 264.5h1M443 265.5h3M447 265.5h2M453 265.5h2M460 265.5h2M466 265.5h2M470 265.5h2M473 265.5h20M494 265.5h1M445 266.5h4M452 266.5h1M454 266.5h1M456 266.5h1M459 266.5h1M470 266.5h3M474 266.5h2M477 266.5h16M496 266.5h1M498 266.5h1M450 267.5h1M455 267.5h1M457 267.5h1M459 267.5h1M469 267.5h1M471 267.5h23M495 267.5h2M498 267.5h1M443 268.5h1M445 268.5h1M450 268.5h2M455 268.5h5M463 268.5h1M467 268.5h1M471 268.5h24M497 268.5h1M447 269.5h2M450 269.5h1M453 269.5h1M459 269.5h2M462 269.5h1M469 269.5h1M471 269.5h1M473 269.5h3M477 269.5h17M495 269.5h2M500 269.5h1M445 270.5h1M447 270.5h1M450 270.5h1M460 270.5h1M473 270.5h1M475 270.5h21M503 270.5h1M443 271.5h2M450 271.5h1M457 271.5h1M460 271.5h1M469 271.5h1M474 271.5h5M480 271.5h12M495 271.5h2M501 271.5h1M444 272.5h1M446 272.5h2M453 272.5h2M459 272.5h1M475 272.5h1M478 272.5h18M443 273.5h1M445 273.5h1M447 273.5h4M454 273.5h3M462 273.5h1M466 273.5h1M475 273.5h2M482 273.5h8M491 273.5h1M447 274.5h1M449 274.5h1M452 274.5h3M460 274.5h2M474 274.5h1M476 274.5h2M479 274.5h2M482 274.5h1M486 274.5h6M493 274.5h1M495 274.5h1M444 275.5h2M450 275.5h1M452 275.5h8M481 275.5h1M483 275.5h3M489 275.5h1M493 275.5h1M495 275.5h1M497 275.5h1M445 276.5h1M447 276.5h1M449 276.5h2M452 276.5h4M457 276.5h4M479 276.5h1M486 276.5h1M490 276.5h2M493 276.5h2M496 276.5h1M443 277.5h6M450 277.5h6M458 277.5h2M461 277.5h1M473 277.5h1M484 277.5h3M490 277.5h1M495 277.5h2M443 278.5h2M446 278.5h5M452 278.5h2M455 278.5h2M458 278.5h2M475 278.5h2M482 278.5h1M491 278.5h1M495 278.5h1M445 279.5h1M448 279.5h6M455 279.5h4M461 279.5h2M480 279.5h1M443 280.5h1M445 280.5h1M449 280.5h10M460 280.5h3M481 280.5h1M485 280.5h1M487 280.5h1M443 281.5h1M445 281.5h1M447 281.5h6M454 281.5h1M459 281.5h1M463 281.5h1M484 281.5h1M512 281.5h1M446 282.5h4M451 282.5h8M460 282.5h1M462 282.5h1M465 282.5h1M471 282.5h1M477 282.5h1M443 283.5h3M447 283.5h1M450 283.5h8M462 283.5h1M465 283.5h1M483 283.5h3M443 284.5h2M446 284.5h1M449 284.5h2M452 284.5h6M459 284.5h1M461 284.5h2M483 284.5h1M489 284.5h1M500 284.5h1M502 284.5h1M443 285.5h15M459 285.5h3M443 286.5h17M484 286.5h1M443 287.5h2M446 287.5h10M458 287.5h5M469 287.5h1M471 287.5h1M474 287.5h1M443 288.5h20M500 288.5h2M443 289.5h17M461 289.5h1M463 289.5h2M481 289.5h1M484 289.5h1M501 289.5h1M443 290.5h20M465 290.5h1M490 290.5h1M494 290.5h1M443 291.5h20M443 292.5h18M463 292.5h1M499 292.5h2M443 293.5h17M461 293.5h2M464 293.5h1M443 294.5h22M466 294.5h1M471 294.5h2M482 294.5h3M443 295.5h22M466 295.5h1M476 295.5h1M443 296.5h21M443 297.5h21M466 297.5h1M469 297.5h2M443 298.5h19M464 298.5h1M467 298.5h1M484 298.5h1M443 299.5h20M464 299.5h1M468 299.5h1M501 299.5h1M443 300.5h19M463 300.5h2M443 301.5h17M461 301.5h1M464 301.5h1M466 301.5h2M488 301.5h1M443 302.5h16M478 302.5h1M502 302.5h1M443 303.5h10M454 303.5h8M464 303.5h1M497 303.5h1M443 304.5h21"/>
<path class="a" d="M442.5 236.5H514.5V304.5H442.5Z"/>
<path class="g" d="M463.5 236.5V304.5M442.5 285.5H514.5"/>
<path class="t" d="M442.5 304.5v2.8M442.5 304.5h-3.4M447.92 304.5v1.6M442.5 299.38h-2M451.09 304.5v1.6M442.5 296.39h-2M453.34 304.5v1.6M442.5 294.26h-2M455.08 304.5v1.6M442.5 292.62h-2M456.51 304.5v1.6M442.5 291.27h-2M457.71 304.5v1.6M442.5 290.13h-2M458.76 304.5v1.6M442.5 289.15h-2M459.68 304.5v1.6M442.5 288.28h-2M460.5 304.5v2.8M442.5 287.5h-3.4M465.92 304.5v1.6M442.5 282.38h-2M469.09 304.5v1.6M442.5 279.39h-2M471.34 304.5v1.6M442.5 277.26h-2M473.08 304.5v1.6M442.5 275.62h-2M474.51 304.5v1.6M442.5 274.27h-2M475.71 304.5v1.6M442.5 273.13h-2M476.76 304.5v1.6M442.5 272.15h-2M477.68 304.5v1.6M442.5 271.28h-2M478.5 304.5v2.8M442.5 270.5h-3.4M483.92 304.5v1.6M442.5 265.38h-2M487.09 304.5v1.6M442.5 262.39h-2M489.34 304.5v1.6M442.5 260.26h-2M491.08 304.5v1.6M442.5 258.62h-2M492.51 304.5v1.6M442.5 257.27h-2M493.71 304.5v1.6M442.5 256.13h-2M494.76 304.5v1.6M442.5 255.15h-2M495.68 304.5v1.6M442.5 254.28h-2M496.5 304.5v2.8M442.5 253.5h-3.4M501.92 304.5v1.6M442.5 248.38h-2M505.09 304.5v1.6M442.5 245.39h-2M507.34 304.5v1.6M442.5 243.26h-2M509.08 304.5v1.6M442.5 241.62h-2M510.51 304.5v1.6M442.5 240.27h-2M511.71 304.5v1.6M442.5 239.13h-2M512.76 304.5v1.6M442.5 238.15h-2M513.68 304.5v1.6M442.5 237.28h-2M514.5 304.5v2.8M442.5 236.5h-3.4"/>
<text class="n" transform="translate(438.1 316.6) scale(.86 1)">10</text>
<text class="n" transform="translate(445.4 312.9) scale(.95 1)">0</text>
<text class="n" transform="translate(436.6 310.1) rotate(-90) scale(.85 1)">10</text>
<text class="n" transform="translate(432.4 302.2) rotate(-90) scale(.93 1)">0</text>
<text class="n" transform="translate(455.56 316.6) scale(.86 1)">10</text>
<text class="n" transform="translate(462.86 312.9) scale(.95 1)">1</text>
<text class="n" transform="translate(436.6 293.1) rotate(-90) scale(.85 1)">10</text>
<text class="n" transform="translate(432.4 285.2) rotate(-90) scale(.93 1)">1</text>
<text class="n" transform="translate(473.02 316.6) scale(.86 1)">10</text>
<text class="n" transform="translate(480.32 312.9) scale(.95 1)">2</text>
<text class="n" transform="translate(436.6 276.1) rotate(-90) scale(.85 1)">10</text>
<text class="n" transform="translate(432.4 268.2) rotate(-90) scale(.93 1)">2</text>
<text class="n" transform="translate(490.48 316.6) scale(.86 1)">10</text>
<text class="n" transform="translate(497.78 312.9) scale(.95 1)">3</text>
<text class="n" transform="translate(436.6 259.1) rotate(-90) scale(.85 1)">10</text>
<text class="n" transform="translate(432.4 251.2) rotate(-90) scale(.93 1)">3</text>
<text class="n" transform="translate(507.94 316.6) scale(.86 1)">10</text>
<text class="n" transform="translate(515.24 312.9) scale(.95 1)">4</text>
<text class="n" transform="translate(436.6 242.1) rotate(-90) scale(.85 1)">10</text>
<text class="n" transform="translate(432.4 234.2) rotate(-90) scale(.93 1)">4</text>
<text class="y" transform="translate(424.2 274.5) rotate(-90)" text-anchor="middle">B220</text>
<text class="p" x="512.2" y="247.9" text-anchor="end">17.0%</text>
<path class="d" filter="url(#b)" d="M108 354.5h2M103 355.5h1M106 355.5h1M109 355.5h2M99 356.5h2M105 356.5h2M109 356.5h1M111 356.5h2M96 357.5h1M98 357.5h1M100 357.5h1M102 357.5h10M113 357.5h1M94 358.5h2M100 358.5h13M115 358.5h1M118 358.5h1M93 359.5h1M97 359.5h14M112 359.5h3M91 360.5h1M97 360.5h16M93 361.5h1M95 361.5h2M98 361.5h16M115 361.5h2M118 361.5h1M76 362.5h1M79 362.5h1M93 362.5h2M96 362.5h20M117 362.5h1M93 363.5h1M95 363.5h22M74 364.5h2M79 364.5h1M90 364.5h1M94 364.5h22M117 364.5h1M120 364.5h1M66 365.5h1M69 365.5h1M78 365.5h1M92 365.5h22M115 365.5h2M118 365.5h1M120 365.5h2M65 366.5h1M67 366.5h2M72 366.5h2M87 366.5h1M93 366.5h23M117 366.5h1M69 367.5h2M77 367.5h1M90 367.5h3M94 367.5h21M117 367.5h1M72 368.5h1M91 368.5h1M93 368.5h2M96 368.5h19M118 368.5h1M65 369.5h1M67 369.5h1M72 369.5h1M76 369.5h1M92 369.5h20M113 369.5h2M67 370.5h2M70 370.5h1M74 370.5h1M76 370.5h1M79 370.5h1M86 370.5h1M98 370.5h16M116 370.5h1M118 370.5h1M65 371.5h1M70 371.5h2M75 371.5h2M93 371.5h1M98 371.5h11M117 371.5h1M65 372.5h1M68 372.5h5M91 372.5h1M99 372.5h6M106 372.5h1M108 372.5h2M112 372.5h1M114 372.5h1M117 372.5h2M65 373.5h1M67 373.5h1M77 373.5h1M92 373.5h1M96 373.5h2M99 373.5h2M102 373.5h3M109 373.5h1M111 373.5h2M114 373.5h1M77 374.5h1M96 374.5h1M98 374.5h1M100 374.5h3M104 374.5h2M107 374.5h2M110 374.5h1M115 374.5h1M71 375.5h2M79 375.5h1M81 375.5h1M91 375.5h1M100 375.5h1M104 375.5h2M109 375.5h1M120 375.5h1M66 376.5h1M72 376.5h1M74 376.5h1M76 376.5h1M92 376.5h1M99 376.5h1M103 376.5h2M106 376.5h1M68 377.5h1M75 377.5h1M107 377.5h1M72 378.5h1M105 378.5h1M114 378.5h1M80 379.5h1M72 380.5h1M79 381.5h1M81 381.5h1M83 381.5h1M67 382.5h1M70 382.5h1M65 383.5h1M68 383.5h2M71 383.5h1M75 383.5h1M78 383.5h2M87 383.5h1M109 383.5h1M113 383.5h2M65 384.5h2M71 384.5h1M73 384.5h1M77 384.5h1M82 384.5h1M89 384.5h1M108 384.5h1M110 384.5h4M117 384.5h1M120 384.5h1M123 384.5h1M65 385.5h7M74 385.5h3M78 385.5h1M80 385.5h4M93 385.5h1M99 385.5h1M103 385.5h1M108 385.5h1M110 385.5h1M114 385.5h3M131 385.5h1M65 386.5h1M67 386.5h2M70 386.5h6M77 386.5h5M83 386.5h1M85 386.5h2M90 386.5h1M93 386.5h1M96 386.5h1M100 386.5h1M102 386.5h1M108 386.5h1M111 386.5h4M116 386.5h1M119 386.5h1M121 386.5h1M123 386.5h1M132 386.5h1M65 387.5h3M69 387.5h13M83 387.5h1M100 387.5h1M106 387.5h1M108 387.5h4M113 387.5h2M116 387.5h2M119 387.5h1M121 387.5h1M65 388.5h20M86 388.5h2M91 388.5h1M99 388.5h1M105 388.5h1M108 388.5h2M111 388.5h6M120 388.5h2M123 388.5h1M65 389.5h17M83 389.5h3M87 389.5h2M96 389.5h1M101 389.5h1M104 389.5h1M106 389.5h1M109 389.5h1M111 389.5h8M120 389.5h1M65 390.5h22M88 390.5h1M93 390.5h1M97 390.5h1M101 390.5h1M107 390.5h1M110 390.5h8M119 390.5h2M125 390.5h1M65 391.5h19M85 391.5h1M87 391.5h2M95 391.5h1M102 391.5h1M106 391.5h10M117 391.5h3M129 391.5h1M65 392.5h22M88 392.5h1M96 392.5h1M98 392.5h1M101 392.5h1M105 392.5h1M108 392.5h1M110 392.5h10M123 392.5h1M128 392.5h1M65 393.5h22M90 393.5h1M92 393.5h2M97 393.5h2M103 393.5h1M106 393.5h13M121 393.5h1M65 394.5h23M90 394.5h1M100 394.5h2M106 394.5h3M111 394.5h11M65 395.5h21M87 395.5h1M90 395.5h1M103 395.5h1M105 395.5h2M108 395.5h7M117 395.5h3M65 396.5h21M92 396.5h1M104 396.5h3M109 396.5h6M116 396.5h1M118 396.5h2M128 396.5h1M65 397.5h17M83 397.5h2M86 397.5h1M102 397.5h1M104 397.5h1M106 397.5h1M108 397.5h1M112 397.5h8M65 398.5h18M85 398.5h1M93 398.5h1M96 398.5h1M105 398.5h1M108 398.5h1M110 398.5h5M117 398.5h1M65 399.5h19M85 399.5h1M87 399.5h1M94 399.5h1M106 399.5h1M108 399.5h3M112 399.5h1M114 399.5h1M65 400.5h17M83 400.5h1M87 400.5h1M106 400.5h1M113 400.5h1M65 401.5h2M68 401.5h17M86 401.5h1M91 401.5h1M99 401.5h2M106 401.5h1M112 401.5h2M117 401.5h2M121 401.5h1M65 402.5h15M81 402.5h4M86 402.5h1M113 402.5h3"/>
<path class="a" d="M64.5 333.5H136.5V402.5H64.5Z"/>
<path class="g" d="M84.5 333.5V402.5M64.5 383.5H136.5"/>
<path class="t" d="M64.5 402.5v2.8M64.5 402.5h-3.4M69.92 402.5v1.6M64.5 397.31h-2M73.09 402.5v1.6M64.5 394.27h-2M75.34 402.5v1.6M64.5 392.11h-2M77.08 402.5v1.6M64.5 390.44h-2M78.51 402.5v1.6M64.5 389.08h-2M79.71 402.5v1.6M64.5 387.92h-2M80.76 402.5v1.6M64.5 386.92h-2M81.68 402.5v1.6M64.5 386.04h-2M82.5 402.5v2.8M64.5 385.25h-3.4M87.92 402.5v1.6M64.5 380.06h-2M91.09 402.5v1.6M64.5 377.02h-2M93.34 402.5v1.6M64.5 374.86h-2M95.08 402.5v1.6M64.5 373.19h-2M96.51 402.5v1.6M64.5 371.83h-2M97.71 402.5v1.6M64.5 370.67h-2M98.76 402.5v1.6M64.5 369.67h-2M99.68 402.5v1.6M64.5 368.79h-2M100.5 402.5v2.8M64.5 368h-3.4M105.92 402.5v1.6M64.5 362.81h-2M109.09 402.5v1.6M64.5 359.77h-2M111.34 402.5v1.6M64.5 357.61h-2M113.08 402.5v1.6M64.5 355.94h-2M114.51 402.5v1.6M64.5 354.58h-2M115.71 402.5v1.6M64.5 353.42h-2M116.76 402.5v1.6M64.5 352.42h-2M117.68 402.5v1.6M64.5 351.54h-2M118.5 402.5v2.8M64.5 350.75h-3.4M123.92 402.5v1.6M64.5 345.56h-2M127.09 402.5v1.6M64.5 342.52h-2M129.34 402.5v1.6M64.5 340.36h-2M131.08 402.5v1.6M64.5 338.69h-2M132.51 402.5v1.6M64.5 337.33h-2M133.71 402.5v1.6M64.5 336.17h-2M134.76 402.5v1.6M64.5 335.17h-2M135.68 402.5v1.6M64.5 334.29h-2M136.5 402.5v2.8M64.5 333.5h-3.4"/>
<text class="n" transform="translate(60.1 414.6) scale(.86 1)">10</text>
<text class="n" transform="translate(67.4 410.9) scale(.95 1)">0</text>
<text class="n" transform="translate(57.7 408.1) rotate(-90) scale(.85 1)">10</text>
<text class="n" transform="translate(53.5 400.2) rotate(-90) scale(.93 1)">0</text>
<text class="n" transform="translate(77.56 414.6) scale(.86 1)">10</text>
<text class="n" transform="translate(84.86 410.9) scale(.95 1)">1</text>
<text class="n" transform="translate(57.7 390.85) rotate(-90) scale(.85 1)">10</text>
<text class="n" transform="translate(53.5 382.95) rotate(-90) scale(.93 1)">1</text>
<text class="n" transform="translate(95.02 414.6) scale(.86 1)">10</text>
<text class="n" transform="translate(102.32 410.9) scale(.95 1)">2</text>
<text class="n" transform="translate(57.7 373.6) rotate(-90) scale(.85 1)">10</text>
<text class="n" transform="translate(53.5 365.7) rotate(-90) scale(.93 1)">2</text>
<text class="n" transform="translate(112.48 414.6) scale(.86 1)">10</text>
<text class="n" transform="translate(119.78 410.9) scale(.95 1)">3</text>
<text class="n" transform="translate(57.7 356.35) rotate(-90) scale(.85 1)">10</text>
<text class="n" transform="translate(53.5 348.45) rotate(-90) scale(.93 1)">3</text>
<text class="n" transform="translate(129.94 414.6) scale(.86 1)">10</text>
<text class="n" transform="translate(137.24 410.9) scale(.95 1)">4</text>
<text class="n" transform="translate(57.7 339.1) rotate(-90) scale(.85 1)">10</text>
<text class="n" transform="translate(53.5 331.2) rotate(-90) scale(.93 1)">4</text>
<text class="y" transform="translate(45.6 369.9) rotate(-90)" text-anchor="middle">CD19</text>
<text class="p" x="133.4" y="344.5" text-anchor="end">50.5%</text>
<path class="d" filter="url(#b)" d="M188 343.5h1M192 349.5h1M190 350.5h1M192 350.5h1M221 352.5h1M223 352.5h1M231 352.5h1M185 353.5h2M192 353.5h1M218 353.5h2M223 353.5h1M227 353.5h1M231 353.5h1M185 354.5h1M192 354.5h1M218 354.5h1M220 354.5h3M224 354.5h2M228 354.5h1M231 354.5h1M236 354.5h1M186 355.5h1M194 355.5h2M219 355.5h2M222 355.5h7M230 355.5h1M190 356.5h1M194 356.5h1M199 356.5h1M205 356.5h1M216 356.5h1M219 356.5h2M222 356.5h8M231 356.5h1M233 356.5h1M236 356.5h1M198 357.5h1M202 357.5h1M215 357.5h1M218 357.5h14M234 357.5h1M185 358.5h1M191 358.5h2M215 358.5h17M234 358.5h1M185 359.5h1M190 359.5h3M194 359.5h1M212 359.5h1M215 359.5h2M218 359.5h15M236 359.5h1M185 360.5h1M187 360.5h1M189 360.5h2M194 360.5h1M205 360.5h1M214 360.5h19M234 360.5h1M188 361.5h1M191 361.5h1M193 361.5h1M196 361.5h1M213 361.5h21M235 361.5h1M185 362.5h1M189 362.5h1M193 362.5h1M196 362.5h1M205 362.5h1M211 362.5h1M213 362.5h21M185 363.5h1M194 363.5h1M196 363.5h1M214 363.5h23M186 364.5h1M197 364.5h2M212 364.5h1M214 364.5h1M217 364.5h19M187 365.5h1M190 365.5h1M193 365.5h1M196 365.5h2M212 365.5h2M215 365.5h1M217 365.5h19M188 366.5h2M193 366.5h1M196 366.5h1M208 366.5h1M215 366.5h21M188 367.5h1M193 367.5h2M200 367.5h1M215 367.5h18M234 367.5h1M236 367.5h1M185 368.5h1M189 368.5h1M198 368.5h1M215 368.5h1M217 368.5h18M198 369.5h1M214 369.5h2M217 369.5h16M234 369.5h3M240 369.5h1M185 370.5h1M216 370.5h1M219 370.5h14M194 371.5h1M214 371.5h1M219 371.5h15M241 371.5h2M190 372.5h1M220 372.5h14M185 373.5h1M188 373.5h1M217 373.5h1M220 373.5h1M222 373.5h11M185 374.5h1M209 374.5h1M214 374.5h1M219 374.5h14M234 374.5h1M195 375.5h1M222 375.5h9M235 375.5h1M189 376.5h1M221 376.5h1M224 376.5h6M231 376.5h1M223 377.5h10M224 378.5h4M230 378.5h1M234 378.5h1M237 378.5h1M190 379.5h1M201 379.5h1M225 379.5h1M228 379.5h3M233 379.5h1M197 380.5h1M222 380.5h2M232 380.5h1M189 381.5h1M192 381.5h1M230 381.5h1M233 381.5h1M190 382.5h1M193 382.5h1M195 382.5h1M200 382.5h1M237 382.5h1M241 382.5h1M194 383.5h1M204 383.5h1M234 383.5h1M190 384.5h1M192 384.5h1M196 384.5h1M198 384.5h3M202 384.5h1M234 384.5h3M185 385.5h1M187 385.5h3M192 385.5h1M194 385.5h1M196 385.5h2M201 385.5h1M203 385.5h1M205 385.5h2M209 385.5h1M228 385.5h1M232 385.5h1M237 385.5h2M245 385.5h1M185 386.5h1M190 386.5h6M197 386.5h2M200 386.5h2M203 386.5h1M205 386.5h1M219 386.5h1M221 386.5h1M225 386.5h1M231 386.5h1M237 386.5h2M185 387.5h2M188 387.5h18M209 387.5h1M211 387.5h1M216 387.5h1M230 387.5h1M232 387.5h1M234 387.5h2M237 387.5h4M245 387.5h1M185 388.5h17M205 388.5h1M209 388.5h1M212 388.5h1M216 388.5h1M219 388.5h2M224 388.5h1M232 388.5h7M240 388.5h1M185 389.5h20M207 389.5h1M209 389.5h2M215 389.5h1M221 389.5h1M223 389.5h1M229 389.5h1M231 389.5h5M237 389.5h1M242 389.5h2M245 389.5h1M251 389.5h1M185 390.5h1M187 390.5h17M206 390.5h1M210 390.5h1M221 390.5h1M223 390.5h1M226 390.5h1M230 390.5h1M232 390.5h7M245 390.5h1M185 391.5h19M205 391.5h3M209 391.5h1M224 391.5h1M229 391.5h1M232 391.5h10M244 391.5h1M185 392.5h22M208 392.5h2M212 392.5h1M217 392.5h1M226 392.5h1M228 392.5h1M230 392.5h10M241 392.5h1M244 392.5h2M185 393.5h22M209 393.5h1M212 393.5h1M214 393.5h1M217 393.5h1M221 393.5h2M226 393.5h1M228 393.5h3M232 393.5h9M243 393.5h1M245 393.5h1M185 394.5h22M208 394.5h2M211 394.5h1M213 394.5h2M216 394.5h2M222 394.5h1M227 394.5h6M234 394.5h2M237 394.5h8M185 395.5h20M206 395.5h2M209 395.5h1M213 395.5h1M217 395.5h1M224 395.5h2M229 395.5h2M234 395.5h3M238 395.5h5M244 395.5h1M185 396.5h18M204 396.5h3M209 396.5h1M216 396.5h1M225 396.5h4M230 396.5h3M234 396.5h6M241 396.5h1M243 396.5h1M185 397.5h19M205 397.5h1M207 397.5h2M221 397.5h2M225 397.5h1M228 397.5h2M231 397.5h2M234 397.5h5M241 397.5h1M185 398.5h17M203 398.5h4M219 398.5h1M222 398.5h1M233 398.5h1M235 398.5h4M241 398.5h1M185 399.5h22M211 399.5h1M214 399.5h1M232 399.5h4M237 399.5h3M244 399.5h2M185 400.5h4M191 400.5h11M203 400.5h1M206 400.5h2M213 400.5h2M218 400.5h1M223 400.5h1M231 400.5h3M239 400.5h1M241 400.5h1M243 400.5h1M185 401.5h20M206 401.5h2M210 401.5h1M215 401.5h1M226 401.5h3M230 401.5h3M237 401.5h1M239 401.5h1M242 401.5h1M185 402.5h2M188 402.5h15M204 402.5h2M234 402.5h4"/>
<path class="a" d="M184.5 334.5H256.5V402.5H184.5Z"/>
<path class="g" d="M204.5 334.5V402.5M184.5 383.5H256.5"/>
<path class="t" d="M184.5 402.5v2.8M184.5 402.5h-3.4M189.92 402.5v1.6M184.5 397.38h-2M193.09 402.5v1.6M184.5 394.39h-2M195.34 402.5v1.6M184.5 392.26h-2M197.08 402.5v1.6M184.5 390.62h-2M198.51 402.5v1.6M184.5 389.27h-2M199.71 402.5v1.6M184.5 388.13h-2M200.76 402.5v1.6M184.5 387.15h-2M201.68 402.5v1.6M184.5 386.28h-2M202.5 402.5v2.8M184.5 385.5h-3.4M207.92 402.5v1.6M184.5 380.38h-2M211.09 402.5v1.6M184.5 377.39h-2M213.34 402.5v1.6M184.5 375.26h-2M215.08 402.5v1.6M184.5 373.62h-2M216.51 402.5v1.6M184.5 372.27h-2M217.71 402.5v1.6M184.5 371.13h-2M218.76 402.5v1.6M184.5 370.15h-2M219.68 402.5v1.6M184.5 369.28h-2M220.5 402.5v2.8M184.5 368.5h-3.4M225.92 402.5v1.6M184.5 363.38h-2M229.09 402.5v1.6M184.5 360.39h-2M231.34 402.5v1.6M184.5 358.26h-2M233.08 402.5v1.6M184.5 356.62h-2M234.51 402.5v1.6M184.5 355.27h-2M235.71 402.5v1.6M184.5 354.13h-2M236.76 402.5v1.6M184.5 353.15h-2M237.68 402.5v1.6M184.5 352.28h-2M238.5 402.5v2.8M184.5 351.5h-3.4M243.92 402.5v1.6M184.5 346.38h-2M247.09 402.5v1.6M184.5 343.39h-2M249.34 402.5v1.6M184.5 341.26h-2M251.08 402.5v1.6M184.5 339.62h-2M252.51 402.5v1.6M184.5 338.27h-2M253.71 402.5v1.6M184.5 337.13h-2M254.76 402.5v1.6M184.5 336.15h-2M255.68 402.5v1.6M184.5 335.28h-2M256.5 402.5v2.8M184.5 334.5h-3.4"/>
<text class="n" transform="translate(180.1 414.6) scale(.86 1)">10</text>
<text class="n" transform="translate(187.4 410.9) scale(.95 1)">0</text>
<text class="n" transform="translate(179 408.1) rotate(-90) scale(.85 1)">10</text>
<text class="n" transform="translate(174.8 400.2) rotate(-90) scale(.93 1)">0</text>
<text class="n" transform="translate(197.56 414.6) scale(.86 1)">10</text>
<text class="n" transform="translate(204.86 410.9) scale(.95 1)">1</text>
<text class="n" transform="translate(179 391.1) rotate(-90) scale(.85 1)">10</text>
<text class="n" transform="translate(174.8 383.2) rotate(-90) scale(.93 1)">1</text>
<text class="n" transform="translate(215.02 414.6) scale(.86 1)">10</text>
<text class="n" transform="translate(222.32 410.9) scale(.95 1)">2</text>
<text class="n" transform="translate(179 374.1) rotate(-90) scale(.85 1)">10</text>
<text class="n" transform="translate(174.8 366.2) rotate(-90) scale(.93 1)">2</text>
<text class="n" transform="translate(232.48 414.6) scale(.86 1)">10</text>
<text class="n" transform="translate(239.78 410.9) scale(.95 1)">3</text>
<text class="n" transform="translate(179 357.1) rotate(-90) scale(.85 1)">10</text>
<text class="n" transform="translate(174.8 349.2) rotate(-90) scale(.93 1)">3</text>
<text class="n" transform="translate(249.94 414.6) scale(.86 1)">10</text>
<text class="n" transform="translate(257.24 410.9) scale(.95 1)">4</text>
<text class="n" transform="translate(179 340.1) rotate(-90) scale(.85 1)">10</text>
<text class="n" transform="translate(174.8 332.2) rotate(-90) scale(.93 1)">4</text>
<text class="y" transform="translate(166.4 368.8) rotate(-90)" text-anchor="middle">B220</text>
<text class="p" x="253.6" y="345.3" text-anchor="end">50.2%</text>
<path class="d" filter="url(#b)" d="M374 355.5h2M367 356.5h1M370 357.5h2M375 357.5h1M378 357.5h1M361 358.5h2M364 358.5h5M372 358.5h4M379 358.5h1M357 359.5h3M361 359.5h2M364 359.5h1M368 359.5h1M370 359.5h9M384 359.5h1M349 360.5h1M356 360.5h1M359 360.5h16M377 360.5h4M325 361.5h1M354 361.5h1M357 361.5h1M359 361.5h18M378 361.5h2M331 362.5h1M350 362.5h1M356 362.5h22M379 362.5h2M382 362.5h1M384 362.5h1M328 363.5h1M334 363.5h1M354 363.5h3M358 363.5h21M380 363.5h1M325 364.5h2M333 364.5h1M335 364.5h2M339 364.5h1M341 364.5h1M351 364.5h2M354 364.5h26M383 364.5h2M386 364.5h1M325 365.5h3M335 365.5h1M337 365.5h1M353 365.5h26M380 365.5h2M384 365.5h1M325 366.5h6M333 366.5h2M336 366.5h4M349 366.5h2M353 366.5h27M381 366.5h1M383 366.5h2M386 366.5h1M325 367.5h5M331 367.5h8M340 367.5h1M343 367.5h1M348 367.5h1M350 367.5h30M383 367.5h1M386 367.5h1M325 368.5h1M327 368.5h12M340 368.5h1M343 368.5h2M349 368.5h3M353 368.5h29M325 369.5h1M327 369.5h12M340 369.5h2M343 369.5h1M350 369.5h29M380 369.5h2M325 370.5h5M331 370.5h7M339 370.5h3M345 370.5h1M349 370.5h27M377 370.5h3M385 370.5h1M325 371.5h2M328 371.5h4M333 371.5h5M339 371.5h3M343 371.5h1M347 371.5h1M350 371.5h26M377 371.5h2M380 371.5h1M325 372.5h1M329 372.5h2M332 372.5h1M335 372.5h3M340 372.5h2M344 372.5h1M351 372.5h26M379 372.5h1M328 373.5h1M330 373.5h2M336 373.5h3M345 373.5h1M348 373.5h1M350 373.5h1M352 373.5h23M377 373.5h1M380 373.5h1M326 374.5h2M329 374.5h1M331 374.5h1M336 374.5h1M340 374.5h1M342 374.5h1M350 374.5h1M352 374.5h5M358 374.5h18M325 375.5h2M328 375.5h3M332 375.5h2M337 375.5h1M340 375.5h1M350 375.5h1M352 375.5h3M357 375.5h11M369 375.5h2M372 375.5h2M329 376.5h2M332 376.5h2M356 376.5h8M365 376.5h3M369 376.5h1M372 376.5h3M376 376.5h1M379 376.5h1M331 377.5h1M333 377.5h1M335 377.5h1M339 377.5h3M355 377.5h1M358 377.5h4M363 377.5h1M365 377.5h3M325 378.5h1M328 378.5h1M331 378.5h1M336 378.5h1M338 378.5h1M341 378.5h1M359 378.5h2M364 378.5h3M370 378.5h1M332 379.5h2M337 379.5h1M339 379.5h1M350 379.5h1M352 379.5h1M356 379.5h1M362 379.5h1M364 379.5h1M372 379.5h1M326 380.5h2M333 380.5h1M339 380.5h2M353 380.5h1M364 380.5h1M367 380.5h1M369 380.5h1M333 381.5h2M336 381.5h2M342 381.5h1M373 381.5h1M378 381.5h1M329 382.5h3M333 382.5h3M337 382.5h1M342 382.5h1M327 383.5h1M329 383.5h3M333 383.5h6M325 384.5h1M327 384.5h2M330 384.5h1M332 384.5h6M325 385.5h1M327 385.5h1M331 385.5h4M336 385.5h1M338 385.5h2M342 385.5h1M357 385.5h1M361 385.5h1M325 386.5h4M330 386.5h12M325 387.5h15M342 387.5h1M345 387.5h1M325 388.5h17M346 388.5h1M374 388.5h2M325 389.5h18M347 389.5h1M364 389.5h1M369 389.5h1M325 390.5h17M343 390.5h3M371 390.5h1M325 391.5h17M343 391.5h1M345 391.5h3M325 392.5h18M344 392.5h1M346 392.5h1M370 392.5h1M325 393.5h20M360 393.5h1M366 393.5h1M325 394.5h22M325 395.5h17M343 395.5h2M325 396.5h17M343 396.5h3M325 397.5h20M325 398.5h19M347 398.5h1M325 399.5h17M346 399.5h1M325 400.5h19M325 401.5h15M325 402.5h16M342 402.5h1M325 403.5h17M343 403.5h1M325 404.5h16M342 404.5h2"/>
<path class="a" d="M324.5 334.5H394.5V404.5H324.5Z"/>
<path class="g" d="M344.5 334.5V404.5M324.5 384.5H394.5"/>
<path class="t" d="M324.5 404.5v2.8M324.5 404.5h-3.4M329.77 404.5v1.6M324.5 399.23h-2M332.85 404.5v1.6M324.5 396.15h-2M335.04 404.5v1.6M324.5 393.96h-2M336.73 404.5v1.6M324.5 392.27h-2M338.12 404.5v1.6M324.5 390.88h-2M339.29 404.5v1.6M324.5 389.71h-2M340.3 404.5v1.6M324.5 388.7h-2M341.2 404.5v1.6M324.5 387.8h-2M342 404.5v2.8M324.5 387h-3.4M347.27 404.5v1.6M324.5 381.73h-2M350.35 404.5v1.6M324.5 378.65h-2M352.54 404.5v1.6M324.5 376.46h-2M354.23 404.5v1.6M324.5 374.77h-2M355.62 404.5v1.6M324.5 373.38h-2M356.79 404.5v1.6M324.5 372.21h-2M357.8 404.5v1.6M324.5 371.2h-2M358.7 404.5v1.6M324.5 370.3h-2M359.5 404.5v2.8M324.5 369.5h-3.4M364.77 404.5v1.6M324.5 364.23h-2M367.85 404.5v1.6M324.5 361.15h-2M370.04 404.5v1.6M324.5 358.96h-2M371.73 404.5v1.6M324.5 357.27h-2M373.12 404.5v1.6M324.5 355.88h-2M374.29 404.5v1.6M324.5 354.71h-2M375.3 404.5v1.6M324.5 353.7h-2M376.2 404.5v1.6M324.5 352.8h-2M377 404.5v2.8M324.5 352h-3.4M382.27 404.5v1.6M324.5 346.73h-2M385.35 404.5v1.6M324.5 343.65h-2M387.54 404.5v1.6M324.5 341.46h-2M389.23 404.5v1.6M324.5 339.77h-2M390.62 404.5v1.6M324.5 338.38h-2M391.79 404.5v1.6M324.5 337.21h-2M392.8 404.5v1.6M324.5 336.2h-2M393.7 404.5v1.6M324.5 335.3h-2M394.5 404.5v2.8M324.5 334.5h-3.4"/>
<text class="n" transform="translate(320.1 416.6) scale(.86 1)">10</text>
<text class="n" transform="translate(327.4 412.9) scale(.95 1)">0</text>
<text class="n" transform="translate(317.6 410.1) rotate(-90) scale(.85 1)">10</text>
<text class="n" transform="translate(313.4 402.2) rotate(-90) scale(.93 1)">0</text>
<text class="n" transform="translate(337.08 416.6) scale(.86 1)">10</text>
<text class="n" transform="translate(344.38 412.9) scale(.95 1)">1</text>
<text class="n" transform="translate(317.6 392.6) rotate(-90) scale(.85 1)">10</text>
<text class="n" transform="translate(313.4 384.7) rotate(-90) scale(.93 1)">1</text>
<text class="n" transform="translate(354.05 416.6) scale(.86 1)">10</text>
<text class="n" transform="translate(361.35 412.9) scale(.95 1)">2</text>
<text class="n" transform="translate(317.6 375.1) rotate(-90) scale(.85 1)">10</text>
<text class="n" transform="translate(313.4 367.2) rotate(-90) scale(.93 1)">2</text>
<text class="n" transform="translate(371.03 416.6) scale(.86 1)">10</text>
<text class="n" transform="translate(378.33 412.9) scale(.95 1)">3</text>
<text class="n" transform="translate(317.6 357.6) rotate(-90) scale(.85 1)">10</text>
<text class="n" transform="translate(313.4 349.7) rotate(-90) scale(.93 1)">3</text>
<text class="n" transform="translate(388 416.6) scale(.86 1)">10</text>
<text class="n" transform="translate(395.3 412.9) scale(.95 1)">4</text>
<text class="n" transform="translate(317.6 340.1) rotate(-90) scale(.85 1)">10</text>
<text class="n" transform="translate(313.4 332.2) rotate(-90) scale(.93 1)">4</text>
<text class="y" transform="translate(305.1 370.6) rotate(-90)" text-anchor="middle">CD19</text>
<text class="p" x="391.6" y="345.3" text-anchor="end">46.5%</text>
<path class="d" filter="url(#b)" d="M480 344.5h1M481 351.5h1M483 351.5h1M452 352.5h1M454 352.5h1M456 352.5h1M463 352.5h1M476 352.5h1M480 352.5h1M483 352.5h2M444 353.5h1M447 353.5h1M457 353.5h1M474 353.5h3M478 353.5h1M480 353.5h1M483 353.5h1M488 353.5h3M492 353.5h1M444 354.5h1M446 354.5h1M449 354.5h3M453 354.5h2M457 354.5h1M469 354.5h1M474 354.5h1M477 354.5h1M479 354.5h1M481 354.5h4M488 354.5h1M490 354.5h1M494 354.5h1M501 354.5h1M444 355.5h1M448 355.5h6M455 355.5h3M462 355.5h1M465 355.5h3M469 355.5h1M473 355.5h3M477 355.5h5M483 355.5h1M485 355.5h2M488 355.5h4M500 355.5h1M444 356.5h1M446 356.5h12M459 356.5h3M466 356.5h1M468 356.5h2M474 356.5h1M476 356.5h16M505 356.5h1M445 357.5h2M449 357.5h8M458 357.5h2M463 357.5h1M465 357.5h2M468 357.5h23M492 357.5h1M495 357.5h1M497 357.5h1M444 358.5h1M447 358.5h6M454 358.5h1M456 358.5h3M465 358.5h2M469 358.5h1M471 358.5h25M497 358.5h1M500 358.5h2M445 359.5h1M447 359.5h1M449 359.5h2M452 359.5h2M455 359.5h1M458 359.5h1M466 359.5h1M472 359.5h22M495 359.5h3M503 359.5h1M448 360.5h1M450 360.5h1M454 360.5h1M468 360.5h32M452 361.5h1M459 361.5h1M468 361.5h4M473 361.5h24M500 361.5h2M446 362.5h1M456 362.5h1M459 362.5h1M472 362.5h27M452 363.5h1M459 363.5h1M465 363.5h1M471 363.5h29M469 364.5h25M495 364.5h1M497 364.5h1M446 365.5h1M449 365.5h1M459 365.5h2M467 365.5h1M470 365.5h30M501 365.5h3M445 366.5h1M457 366.5h1M460 366.5h1M471 366.5h1M473 366.5h28M449 367.5h1M455 367.5h1M458 367.5h2M468 367.5h1M472 367.5h26M499 367.5h2M502 367.5h1M505 367.5h1M447 368.5h1M449 368.5h2M465 368.5h1M470 368.5h4M475 368.5h23M499 368.5h1M502 368.5h1M452 369.5h1M457 369.5h2M471 369.5h2M474 369.5h24M499 369.5h1M502 369.5h1M454 370.5h1M456 370.5h1M461 370.5h2M472 370.5h3M476 370.5h20M497 370.5h1M500 370.5h1M449 371.5h1M452 371.5h1M454 371.5h1M456 371.5h1M458 371.5h2M473 371.5h1M475 371.5h5M481 371.5h16M498 371.5h1M451 372.5h1M453 372.5h1M455 372.5h1M458 372.5h2M462 372.5h1M470 372.5h1M473 372.5h4M478 372.5h20M444 373.5h1M449 373.5h1M454 373.5h2M458 373.5h1M470 373.5h1M472 373.5h1M480 373.5h17M451 374.5h5M457 374.5h2M461 374.5h1M478 374.5h2M484 374.5h2M487 374.5h1M490 374.5h1M492 374.5h2M495 374.5h2M498 374.5h1M444 375.5h2M448 375.5h2M451 375.5h4M457 375.5h1M477 375.5h1M481 375.5h1M485 375.5h1M491 375.5h1M500 375.5h2M503 375.5h1M454 376.5h3M462 376.5h1M473 376.5h1M479 376.5h4M485 376.5h1M491 376.5h1M493 376.5h1M446 377.5h2M449 377.5h1M452 377.5h2M457 377.5h1M475 377.5h1M486 377.5h1M448 378.5h2M451 378.5h3M463 378.5h1M471 378.5h1M481 378.5h1M446 379.5h2M449 379.5h2M453 379.5h1M485 379.5h1M449 380.5h5M455 380.5h1M460 380.5h1M481 380.5h1M447 381.5h4M452 381.5h1M455 381.5h1M460 381.5h1M448 382.5h2M451 382.5h1M454 382.5h1M458 382.5h1M445 383.5h1M448 383.5h1M450 383.5h6M458 383.5h5M444 384.5h2M447 384.5h1M449 384.5h7M458 384.5h4M444 385.5h1M447 385.5h5M453 385.5h1M455 385.5h3M460 385.5h1M462 385.5h1M499 385.5h1M444 386.5h1M446 386.5h13M460 386.5h1M444 387.5h2M448 387.5h9M458 387.5h1M460 387.5h2M497 387.5h1M444 388.5h16M461 388.5h1M497 388.5h1M444 389.5h18M444 390.5h15M460 390.5h2M444 391.5h17M462 391.5h1M480 391.5h1M444 392.5h16M461 392.5h1M444 393.5h17M444 394.5h19M465 394.5h2M444 395.5h16M461 395.5h1M444 396.5h18M467 396.5h1M444 397.5h17M444 398.5h17M444 399.5h19M444 400.5h18M463 400.5h1M444 401.5h16M491 401.5h1M444 402.5h15M461 402.5h1M463 402.5h1M444 403.5h10M455 403.5h5M462 403.5h1M475 403.5h1M444 404.5h16M461 404.5h1"/>
<path class="a" d="M443.5 334.5H512.5V404.5H443.5Z"/>
<path class="g" d="M462.5 334.5V404.5M443.5 384.5H512.5"/>
<path class="t" d="M443.5 404.5v2.8M443.5 404.5h-3.4M448.69 404.5v1.6M443.5 399.23h-2M451.73 404.5v1.6M443.5 396.15h-2M453.89 404.5v1.6M443.5 393.96h-2M455.56 404.5v1.6M443.5 392.27h-2M456.92 404.5v1.6M443.5 390.88h-2M458.08 404.5v1.6M443.5 389.71h-2M459.08 404.5v1.6M443.5 388.7h-2M459.96 404.5v1.6M443.5 387.8h-2M460.75 404.5v2.8M443.5 387h-3.4M465.94 404.5v1.6M443.5 381.73h-2M468.98 404.5v1.6M443.5 378.65h-2M471.14 404.5v1.6M443.5 376.46h-2M472.81 404.5v1.6M443.5 374.77h-2M474.17 404.5v1.6M443.5 373.38h-2M475.33 404.5v1.6M443.5 372.21h-2M476.33 404.5v1.6M443.5 371.2h-2M477.21 404.5v1.6M443.5 370.3h-2M478 404.5v2.8M443.5 369.5h-3.4M483.19 404.5v1.6M443.5 364.23h-2M486.23 404.5v1.6M443.5 361.15h-2M488.39 404.5v1.6M443.5 358.96h-2M490.06 404.5v1.6M443.5 357.27h-2M491.42 404.5v1.6M443.5 355.88h-2M492.58 404.5v1.6M443.5 354.71h-2M493.58 404.5v1.6M443.5 353.7h-2M494.46 404.5v1.6M443.5 352.8h-2M495.25 404.5v2.8M443.5 352h-3.4M500.44 404.5v1.6M443.5 346.73h-2M503.48 404.5v1.6M443.5 343.65h-2M505.64 404.5v1.6M443.5 341.46h-2M507.31 404.5v1.6M443.5 339.77h-2M508.67 404.5v1.6M443.5 338.38h-2M509.83 404.5v1.6M443.5 337.21h-2M510.83 404.5v1.6M443.5 336.2h-2M511.71 404.5v1.6M443.5 335.3h-2M512.5 404.5v2.8M443.5 334.5h-3.4"/>
<text class="n" transform="translate(439.1 416.6) scale(.86 1)">10</text>
<text class="n" transform="translate(446.4 412.9) scale(.95 1)">0</text>
<text class="n" transform="translate(437.5 410.1) rotate(-90) scale(.85 1)">10</text>
<text class="n" transform="translate(433.3 402.2) rotate(-90) scale(.93 1)">0</text>
<text class="n" transform="translate(455.83 416.6) scale(.86 1)">10</text>
<text class="n" transform="translate(463.13 412.9) scale(.95 1)">1</text>
<text class="n" transform="translate(437.5 392.6) rotate(-90) scale(.85 1)">10</text>
<text class="n" transform="translate(433.3 384.7) rotate(-90) scale(.93 1)">1</text>
<text class="n" transform="translate(472.56 416.6) scale(.86 1)">10</text>
<text class="n" transform="translate(479.87 412.9) scale(.95 1)">2</text>
<text class="n" transform="translate(437.5 375.1) rotate(-90) scale(.85 1)">10</text>
<text class="n" transform="translate(433.3 367.2) rotate(-90) scale(.93 1)">2</text>
<text class="n" transform="translate(489.3 416.6) scale(.86 1)">10</text>
<text class="n" transform="translate(496.6 412.9) scale(.95 1)">3</text>
<text class="n" transform="translate(437.5 357.6) rotate(-90) scale(.85 1)">10</text>
<text class="n" transform="translate(433.3 349.7) rotate(-90) scale(.93 1)">3</text>
<text class="n" transform="translate(506.03 416.6) scale(.86 1)">10</text>
<text class="n" transform="translate(513.33 412.9) scale(.95 1)">4</text>
<text class="n" transform="translate(437.5 340.1) rotate(-90) scale(.85 1)">10</text>
<text class="n" transform="translate(433.3 332.2) rotate(-90) scale(.93 1)">4</text>
<text class="y" transform="translate(426.1 370.6) rotate(-90)" text-anchor="middle">B220</text>
<text class="p" x="509.6" y="345.3" text-anchor="end">46.5%</text>
</svg></body></html>
